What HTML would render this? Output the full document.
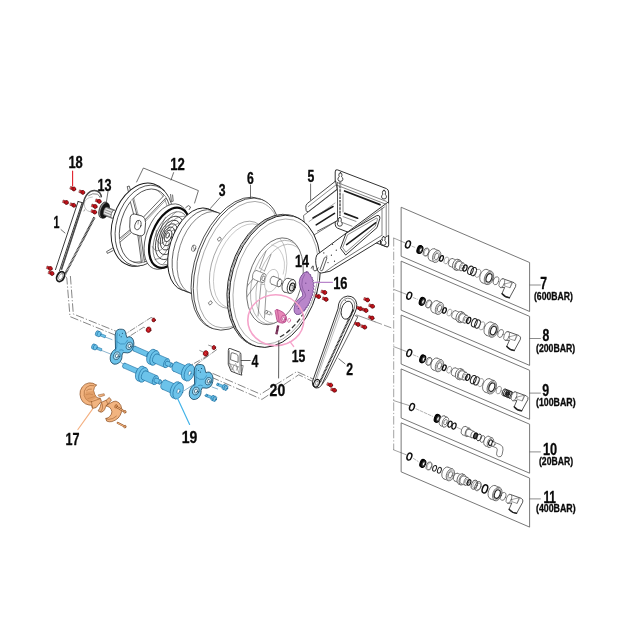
<!DOCTYPE html>
<html><head><meta charset="utf-8"><title>Exploded view</title>
<style>
html,body{margin:0;padding:0;background:#fff;}
body{width:620px;height:620px;overflow:hidden;font-family:"Liberation Sans",sans-serif;}
svg{display:block;}
svg text{font-family:"Liberation Sans",sans-serif;font-weight:bold;fill:#0a0a0a;stroke:#0a0a0a;stroke-width:0.3px;stroke-linejoin:round;}
</style></head><body>
<svg width="620" height="620" viewBox="0 0 620 620" stroke-linecap="round" stroke-linejoin="round">
<rect x="0" y="0" width="620" height="620" fill="#fff"/>
<path d="M65.6,276.4 L66.8,278.1 L70,316.6 L116.5,335.6" stroke="#444" stroke-width="0.65" fill="none" stroke-dasharray="8.5 2 1.2 2" stroke-linecap="butt"/>
<path d="M70.4,276 L73.3,314 L118,332" stroke="#444" stroke-width="0.65" fill="none" stroke-dasharray="8.5 2 1.2 2" stroke-linecap="butt"/>
<path d="M211,377 L261.9,399.4 L298.7,374.8 L312.6,381.4" stroke="#444" stroke-width="0.65" fill="none" stroke-dasharray="8.5 2 1.2 2" stroke-linecap="butt"/>
<path d="M212.6,373.4 L260.6,394.2 L296.8,371.6 L313,379" stroke="#444" stroke-width="0.65" fill="none" stroke-dasharray="8.5 2 1.2 2" stroke-linecap="butt"/>
<path d="M393.7,238 L393.7,450" stroke="#666" stroke-width="0.6" fill="none" stroke-dasharray="8.5 2 1.2 2" stroke-linecap="butt"/>
<path d="M356.6,315 L375,321.8" stroke="#444" stroke-width="0.6" fill="none" />
<path d="M375,321.8 L393.7,328.7" stroke="#555" stroke-width="0.6" fill="none" stroke-dasharray="7 3"/>
<polygon points="401.5,207.4 529.6,262.5 529.6,311.5 401.5,256.4" stroke="#606060" stroke-width="0.85" fill="none" />
<polygon points="401.5,261.29999999999995 529.6,316.4 529.6,365.4 401.5,310.29999999999995" stroke="#606060" stroke-width="0.85" fill="none" />
<polygon points="401.5,315.2 529.6,370.3 529.6,419.3 401.5,364.2" stroke="#606060" stroke-width="0.85" fill="none" />
<polygon points="401.5,369.09999999999997 529.6,424.2 529.6,473.2 401.5,418.09999999999997" stroke="#606060" stroke-width="0.85" fill="none" />
<polygon points="401.5,423.0 529.6,478.1 529.6,527.1 401.5,472.0" stroke="#606060" stroke-width="0.85" fill="none" />
<line x1="393.7" y1="238.0" x2="405.1" y2="242.9" stroke="#444" stroke-width="0.5" />
<line x1="393.7" y1="289.4" x2="406.35" y2="294.3" stroke="#444" stroke-width="0.5" />
<line x1="393.7" y1="346.6" x2="406.35" y2="351.5" stroke="#444" stroke-width="0.5" />
<line x1="393.7" y1="400.6" x2="409.1" y2="405.5" stroke="#444" stroke-width="0.5" />
<line x1="393.7" y1="449.9" x2="406.35" y2="454.8" stroke="#444" stroke-width="0.5" />
<ellipse cx="408" cy="244.4" rx="2.25" ry="3.6" transform="rotate(20 408 244.4)" stroke="#111" stroke-width="1.45" fill="none" />
<path d="M412,246.20000000000002 L415.2,247.5" stroke="#666" stroke-width="0.5" fill="none" stroke-dasharray="3 1.5"/>
<ellipse cx="419.5" cy="249.4" rx="2.3" ry="4.0" transform="rotate(20 419.5 249.4)" stroke="#000" stroke-width="1.1" fill="#111" />
<ellipse cx="420.5" cy="249.8" rx="2.2" ry="3.8" transform="rotate(20 420.5 249.8)" stroke="#000" stroke-width="1.0" fill="#333" />
<ellipse cx="420.8" cy="249.95" rx="1.1" ry="2.0" transform="rotate(20 420.8 249.95)" stroke="#000" stroke-width="0.4" fill="#fff" />
<ellipse cx="426.0" cy="252.08" rx="2.6" ry="4.2" transform="rotate(20 426.0 252.08)" stroke="#555" stroke-width="0.8" fill="none" />
<ellipse cx="426.8" cy="252.43" rx="2.4" ry="3.9" transform="rotate(20 426.8 252.43)" stroke="#777" stroke-width="0.5" fill="none" />
<ellipse cx="432.3" cy="254.67" rx="3.9" ry="6.2" transform="rotate(20 432.3 254.67)" stroke="#333" stroke-width="0.6" fill="#fff" />
<polygon points="434.4205248886192,248.83990575112736 438.82052488861916,250.6439057511274 434.5794751113808,262.29609424887263 430.17947511138084,260.4920942488726" stroke="none" stroke-width="0.8" fill="#fff" />
<line x1="434.4205248886192" y1="248.83990575112736" x2="438.82052488861916" y2="250.6439057511274" stroke="#333" stroke-width="0.6" />
<line x1="430.17947511138084" y1="260.4920942488726" x2="434.5794751113808" y2="262.29609424887263" stroke="#333" stroke-width="0.6" />
<ellipse cx="436.7" cy="256.47" rx="3.9" ry="6.2" transform="rotate(20 436.7 256.47)" stroke="#333" stroke-width="0.6" fill="#fff" />
<ellipse cx="436.7" cy="256.47" rx="2.0" ry="3.3" transform="rotate(20 436.7 256.47)" stroke="#555" stroke-width="0.7" fill="#fff" />
<ellipse cx="436.7" cy="256.47" rx="2.9" ry="4.7" transform="rotate(20 436.7 256.47)" stroke="#777" stroke-width="0.5" fill="none" />
<ellipse cx="441.5" cy="258.44" rx="1.7" ry="2.9" transform="rotate(20 441.5 258.44)" stroke="#111" stroke-width="1.3" fill="none" />
<ellipse cx="446.4" cy="260.45" rx="2.2" ry="3.6" transform="rotate(20 446.4 260.45)" stroke="#777" stroke-width="0.6" fill="none" />
<ellipse cx="451.2" cy="262.42" rx="2.5" ry="4.1" transform="rotate(20 451.2 262.42)" stroke="#333" stroke-width="0.6" fill="#fff" />
<polygon points="452.6022825876352,258.5622602547778 457.1022825876352,260.4072602547778 454.29771741236476,268.1127397452222 449.79771741236476,266.26773974522223" stroke="none" stroke-width="0.8" fill="#fff" />
<line x1="452.6022825876352" y1="258.5622602547778" x2="457.1022825876352" y2="260.4072602547778" stroke="#333" stroke-width="0.6" />
<line x1="449.79771741236476" y1="266.26773974522223" x2="454.29771741236476" y2="268.1127397452222" stroke="#333" stroke-width="0.6" />
<ellipse cx="455.7" cy="264.26" rx="2.5" ry="4.1" transform="rotate(20 455.7 264.26)" stroke="#333" stroke-width="0.6" fill="#fff" />
<ellipse cx="456.2" cy="264.46" rx="3.3" ry="5.4" transform="rotate(20 456.2 264.46)" stroke="#333" stroke-width="0.6" fill="#fff" />
<polygon points="458.0469087739586,259.39065984775607 460.0469087739586,260.2106598477561 456.3530912260414,270.35934015224393 454.3530912260414,269.5393401522439" stroke="none" stroke-width="0.8" fill="#fff" />
<line x1="458.0469087739586" y1="259.39065984775607" x2="460.0469087739586" y2="260.2106598477561" stroke="#333" stroke-width="0.6" />
<line x1="454.3530912260414" y1="269.5393401522439" x2="456.3530912260414" y2="270.35934015224393" stroke="#333" stroke-width="0.6" />
<ellipse cx="458.2" cy="265.29" rx="3.3" ry="5.4" transform="rotate(20 458.2 265.29)" stroke="#333" stroke-width="0.6" fill="#fff" />
<ellipse cx="458.2" cy="265.29" rx="2.5" ry="4.1" transform="rotate(20 458.2 265.29)" stroke="#333" stroke-width="0.6" fill="#fff" />
<polygon points="459.6022825876352,261.4322602547778 463.6022825876352,263.0722602547778 460.79771741236476,270.7777397452222 456.79771741236476,269.13773974522223" stroke="none" stroke-width="0.8" fill="#fff" />
<line x1="459.6022825876352" y1="261.4322602547778" x2="463.6022825876352" y2="263.0722602547778" stroke="#333" stroke-width="0.6" />
<line x1="456.79771741236476" y1="269.13773974522223" x2="460.79771741236476" y2="270.7777397452222" stroke="#333" stroke-width="0.6" />
<ellipse cx="462.2" cy="266.93" rx="2.5" ry="4.1" transform="rotate(20 462.2 266.93)" stroke="#333" stroke-width="0.6" fill="#fff" />
<ellipse cx="462.2" cy="266.93" rx="1.3" ry="2.1" transform="rotate(20 462.2 266.93)" stroke="#555" stroke-width="0.5" fill="#fff" />
<ellipse cx="465.0" cy="268.07" rx="1.9" ry="3.2" transform="rotate(20 465.0 268.07)" stroke="#111" stroke-width="1.2" fill="none" />
<ellipse cx="470.5" cy="270.33" rx="2.6" ry="4.3" transform="rotate(20 470.5 270.33)" stroke="#222" stroke-width="1.0" fill="none" />
<ellipse cx="473.6" cy="271.6" rx="2.6" ry="4.3" transform="rotate(20 473.6 271.6)" stroke="#222" stroke-width="1.0" fill="none" />
<ellipse cx="477.8" cy="273.32" rx="2.6" ry="4.3" transform="rotate(20 477.8 273.32)" stroke="#777" stroke-width="0.6" fill="none" />
<ellipse cx="484.5" cy="276.07" rx="4.4" ry="7.0" transform="rotate(20 484.5 276.07)" stroke="#333" stroke-width="0.6" fill="#fff" />
<polygon points="486.8941410032797,269.4901516544986 491.3941410032797,271.33515165449865 486.6058589967203,284.4908483455014 482.1058589967203,282.64584834550135" stroke="none" stroke-width="0.8" fill="#fff" />
<line x1="486.8941410032797" y1="269.4901516544986" x2="491.3941410032797" y2="271.33515165449865" stroke="#333" stroke-width="0.6" />
<line x1="482.1058589967203" y1="282.64584834550135" x2="486.6058589967203" y2="284.4908483455014" stroke="#333" stroke-width="0.6" />
<ellipse cx="489.0" cy="277.91" rx="4.4" ry="7.0" transform="rotate(20 489.0 277.91)" stroke="#333" stroke-width="0.6" fill="#fff" />
<ellipse cx="489.0" cy="277.91" rx="2.7" ry="4.4" transform="rotate(20 489.0 277.91)" stroke="#222" stroke-width="1.1" fill="#fff" />
<ellipse cx="489.0" cy="277.91" rx="3.6" ry="5.8" transform="rotate(20 489.0 277.91)" stroke="#555" stroke-width="0.5" fill="none" />
<ellipse cx="496.0" cy="280.78" rx="2.6" ry="4.2" transform="rotate(20 496.0 280.78)" stroke="#555" stroke-width="0.7" fill="none" />
<path d="M502.69999999999993,278.661 L514.0999999999999,282.661 Q516.5999999999999,284.061 515.5999999999999,286.561 L509.49999999999994,297.761 Q505.19999999999993,297.561 501.9,293.761 L504.69999999999993,287.361 L500.9,287.661 Z" stroke="#222" stroke-width="0.75" fill="#fff" />
<ellipse cx="501.8" cy="283.16" rx="2.5" ry="4.6" transform="rotate(20 501.8 283.16)" stroke="#444" stroke-width="0.6" fill="#fff" />
<path d="M505.19999999999993,283.761 L511.99999999999994,282.161 L509.99999999999994,287.761 L504.99999999999994,286.161 Z M509.99999999999994,287.761 L512.4,283.161" stroke="#444" stroke-width="0.5" fill="none" />
<path d="M502.09999999999997,293.761 Q505.19999999999993,297.361 509.4,297.661" stroke="#222" stroke-width="1.5" fill="none" />
<ellipse cx="409.25" cy="295.8" rx="2.25" ry="3.6" transform="rotate(20 409.25 295.8)" stroke="#111" stroke-width="1.45" fill="none" />
<path d="M413.25,297.6 L417.5,299.3" stroke="#666" stroke-width="0.5" fill="none" stroke-dasharray="3 1.5"/>
<ellipse cx="421.8" cy="301.2" rx="2.3" ry="4.0" transform="rotate(20 421.8 301.2)" stroke="#000" stroke-width="1.1" fill="#111" />
<ellipse cx="422.8" cy="301.6" rx="2.2" ry="3.8" transform="rotate(20 422.8 301.6)" stroke="#000" stroke-width="1.0" fill="#333" />
<ellipse cx="423.1" cy="301.75" rx="1.1" ry="2.0" transform="rotate(20 423.1 301.75)" stroke="#000" stroke-width="0.4" fill="#fff" />
<ellipse cx="428.49" cy="303.96" rx="2.6" ry="4.2" transform="rotate(20 428.49 303.96)" stroke="#555" stroke-width="0.8" fill="none" />
<ellipse cx="429.29" cy="304.31" rx="2.4" ry="3.9" transform="rotate(20 429.29 304.31)" stroke="#777" stroke-width="0.5" fill="none" />
<ellipse cx="434.98" cy="306.62" rx="3.9" ry="6.2" transform="rotate(20 434.98 306.62)" stroke="#333" stroke-width="0.6" fill="#fff" />
<polygon points="437.0985248886192,300.7948857511274 441.63052488861916,302.6530057511274 437.3894751113808,314.3051942488726 432.85747511138084,312.44707424887264" stroke="none" stroke-width="0.8" fill="#fff" />
<line x1="437.0985248886192" y1="300.7948857511274" x2="441.63052488861916" y2="302.6530057511274" stroke="#333" stroke-width="0.6" />
<line x1="432.85747511138084" y1="312.44707424887264" x2="437.3894751113808" y2="314.3051942488726" stroke="#333" stroke-width="0.6" />
<ellipse cx="439.51" cy="308.48" rx="3.9" ry="6.2" transform="rotate(20 439.51 308.48)" stroke="#333" stroke-width="0.6" fill="#fff" />
<ellipse cx="439.51" cy="308.48" rx="2.0" ry="3.3" transform="rotate(20 439.51 308.48)" stroke="#555" stroke-width="0.7" fill="#fff" />
<ellipse cx="439.51" cy="308.48" rx="2.9" ry="4.7" transform="rotate(20 439.51 308.48)" stroke="#777" stroke-width="0.5" fill="none" />
<ellipse cx="444.45" cy="310.51" rx="1.7" ry="2.9" transform="rotate(20 444.45 310.51)" stroke="#111" stroke-width="1.3" fill="none" />
<ellipse cx="449.5" cy="312.58" rx="2.2" ry="3.6" transform="rotate(20 449.5 312.58)" stroke="#777" stroke-width="0.6" fill="none" />
<ellipse cx="454.44" cy="314.6" rx="2.5" ry="4.1" transform="rotate(20 454.44 314.6)" stroke="#333" stroke-width="0.6" fill="#fff" />
<polygon points="455.8472825876352,310.7497102547778 460.4822825876352,312.6500602547778 457.67771741236476,320.35553974522225 453.04271741236477,318.45518974522224" stroke="none" stroke-width="0.8" fill="#fff" />
<line x1="455.8472825876352" y1="310.7497102547778" x2="460.4822825876352" y2="312.6500602547778" stroke="#333" stroke-width="0.6" />
<line x1="453.04271741236477" y1="318.45518974522224" x2="457.67771741236476" y2="320.35553974522225" stroke="#333" stroke-width="0.6" />
<ellipse cx="459.08" cy="316.5" rx="2.5" ry="4.1" transform="rotate(20 459.08 316.5)" stroke="#333" stroke-width="0.6" fill="#fff" />
<ellipse cx="459.6" cy="316.71" rx="3.3" ry="5.4" transform="rotate(20 459.6 316.71)" stroke="#333" stroke-width="0.6" fill="#fff" />
<polygon points="461.44190877395863,311.6396098477561 463.5019087739586,312.4842098477561 459.80809122604137,322.63289015224393 457.7480912260414,321.7882901522439" stroke="none" stroke-width="0.8" fill="#fff" />
<line x1="461.44190877395863" y1="311.6396098477561" x2="463.5019087739586" y2="312.4842098477561" stroke="#333" stroke-width="0.6" />
<line x1="457.7480912260414" y1="321.7882901522439" x2="459.80809122604137" y2="322.63289015224393" stroke="#333" stroke-width="0.6" />
<ellipse cx="461.65" cy="317.56" rx="3.3" ry="5.4" transform="rotate(20 461.65 317.56)" stroke="#333" stroke-width="0.6" fill="#fff" />
<ellipse cx="461.65" cy="317.56" rx="2.5" ry="4.1" transform="rotate(20 461.65 317.56)" stroke="#333" stroke-width="0.6" fill="#fff" />
<polygon points="463.0572825876352,313.7058102547778 467.1772825876352,315.3950102547778 464.37271741236475,323.1004897452222 460.25271741236475,321.41128974522223" stroke="none" stroke-width="0.8" fill="#fff" />
<line x1="463.0572825876352" y1="313.7058102547778" x2="467.1772825876352" y2="315.3950102547778" stroke="#333" stroke-width="0.6" />
<line x1="460.25271741236475" y1="321.41128974522223" x2="464.37271741236475" y2="323.1004897452222" stroke="#333" stroke-width="0.6" />
<ellipse cx="465.77" cy="319.25" rx="2.5" ry="4.1" transform="rotate(20 465.77 319.25)" stroke="#333" stroke-width="0.6" fill="#fff" />
<ellipse cx="465.77" cy="319.25" rx="1.3" ry="2.1" transform="rotate(20 465.77 319.25)" stroke="#555" stroke-width="0.5" fill="#fff" />
<ellipse cx="468.66" cy="320.43" rx="1.9" ry="3.2" transform="rotate(20 468.66 320.43)" stroke="#111" stroke-width="1.2" fill="none" />
<ellipse cx="474.32" cy="322.75" rx="2.6" ry="4.3" transform="rotate(20 474.32 322.75)" stroke="#222" stroke-width="1.0" fill="none" />
<ellipse cx="477.52" cy="324.06" rx="2.6" ry="4.3" transform="rotate(20 477.52 324.06)" stroke="#222" stroke-width="1.0" fill="none" />
<ellipse cx="481.84" cy="325.84" rx="2.6" ry="4.3" transform="rotate(20 481.84 325.84)" stroke="#777" stroke-width="0.6" fill="none" />
<ellipse cx="488.74" cy="328.67" rx="4.4" ry="7.0" transform="rotate(20 488.74 328.67)" stroke="#333" stroke-width="0.6" fill="#fff" />
<polygon points="491.1381410032797,322.08719165449867 495.7731410032797,323.9875416544986 490.98485899672033,337.14323834550135 486.34985899672034,335.2428883455014" stroke="none" stroke-width="0.8" fill="#fff" />
<line x1="491.1381410032797" y1="322.08719165449867" x2="495.7731410032797" y2="323.9875416544986" stroke="#333" stroke-width="0.6" />
<line x1="486.34985899672034" y1="335.2428883455014" x2="490.98485899672033" y2="337.14323834550135" stroke="#333" stroke-width="0.6" />
<ellipse cx="493.38" cy="330.57" rx="4.4" ry="7.0" transform="rotate(20 493.38 330.57)" stroke="#333" stroke-width="0.6" fill="#fff" />
<ellipse cx="493.38" cy="330.57" rx="2.7" ry="4.4" transform="rotate(20 493.38 330.57)" stroke="#222" stroke-width="1.1" fill="#fff" />
<ellipse cx="493.38" cy="330.57" rx="3.6" ry="5.8" transform="rotate(20 493.38 330.57)" stroke="#555" stroke-width="0.5" fill="none" />
<ellipse cx="500.59" cy="333.52" rx="2.6" ry="4.2" transform="rotate(20 500.59 333.52)" stroke="#555" stroke-width="0.7" fill="none" />
<path d="M507.46299999999997,331.47083 L518.8629999999999,335.47083 Q521.3629999999999,336.87082999999996 520.3629999999999,339.37082999999996 L514.263,350.57083 Q509.96299999999997,350.37082999999996 506.663,346.57083 L509.46299999999997,340.17082999999997 L505.663,340.47083 Z" stroke="#222" stroke-width="0.75" fill="#fff" />
<ellipse cx="506.56" cy="335.97" rx="2.5" ry="4.6" transform="rotate(20 506.56 335.97)" stroke="#444" stroke-width="0.6" fill="#fff" />
<path d="M509.96299999999997,336.57083 L516.763,334.97083 L514.763,340.57083 L509.763,338.97083 Z M514.763,340.57083 L517.163,335.97083" stroke="#444" stroke-width="0.5" fill="none" />
<path d="M506.863,346.57083 Q509.96299999999997,350.17082999999997 514.163,350.47083" stroke="#222" stroke-width="1.5" fill="none" />
<ellipse cx="409.25" cy="353" rx="2.25" ry="3.6" transform="rotate(20 409.25 353)" stroke="#111" stroke-width="1.45" fill="none" />
<path d="M413.25,354.8 L418.0,356.8" stroke="#666" stroke-width="0.5" fill="none" stroke-dasharray="3 1.5"/>
<ellipse cx="422.3" cy="358.7" rx="2.3" ry="4.0" transform="rotate(20 422.3 358.7)" stroke="#000" stroke-width="1.1" fill="#111" />
<ellipse cx="423.3" cy="359.1" rx="2.2" ry="3.8" transform="rotate(20 423.3 359.1)" stroke="#000" stroke-width="1.0" fill="#333" />
<ellipse cx="423.6" cy="359.25" rx="1.1" ry="2.0" transform="rotate(20 423.6 359.25)" stroke="#000" stroke-width="0.4" fill="#fff" />
<ellipse cx="428.8" cy="361.38" rx="2.6" ry="4.2" transform="rotate(20 428.8 361.38)" stroke="#555" stroke-width="0.8" fill="none" />
<ellipse cx="429.6" cy="361.73" rx="2.4" ry="3.9" transform="rotate(20 429.6 361.73)" stroke="#777" stroke-width="0.5" fill="none" />
<ellipse cx="435.1" cy="363.97" rx="3.9" ry="6.2" transform="rotate(20 435.1 363.97)" stroke="#333" stroke-width="0.6" fill="#fff" />
<polygon points="437.2205248886192,358.1399057511274 441.6205248886192,359.94390575112743 437.3794751113808,371.59609424887265 432.97947511138085,369.7920942488726" stroke="none" stroke-width="0.8" fill="#fff" />
<line x1="437.2205248886192" y1="358.1399057511274" x2="441.6205248886192" y2="359.94390575112743" stroke="#333" stroke-width="0.6" />
<line x1="432.97947511138085" y1="369.7920942488726" x2="437.3794751113808" y2="371.59609424887265" stroke="#333" stroke-width="0.6" />
<ellipse cx="439.5" cy="365.77" rx="3.9" ry="6.2" transform="rotate(20 439.5 365.77)" stroke="#333" stroke-width="0.6" fill="#fff" />
<ellipse cx="439.5" cy="365.77" rx="2.0" ry="3.3" transform="rotate(20 439.5 365.77)" stroke="#555" stroke-width="0.7" fill="#fff" />
<ellipse cx="439.5" cy="365.77" rx="2.9" ry="4.7" transform="rotate(20 439.5 365.77)" stroke="#777" stroke-width="0.5" fill="none" />
<ellipse cx="444.3" cy="367.74" rx="1.7" ry="2.9" transform="rotate(20 444.3 367.74)" stroke="#111" stroke-width="1.3" fill="none" />
<ellipse cx="449.2" cy="369.75" rx="2.2" ry="3.6" transform="rotate(20 449.2 369.75)" stroke="#777" stroke-width="0.6" fill="none" />
<ellipse cx="454.0" cy="371.72" rx="2.5" ry="4.1" transform="rotate(20 454.0 371.72)" stroke="#333" stroke-width="0.6" fill="#fff" />
<polygon points="455.4022825876352,367.8622602547778 459.9022825876352,369.7072602547778 457.0977174123648,377.4127397452222 452.5977174123648,375.56773974522224" stroke="none" stroke-width="0.8" fill="#fff" />
<line x1="455.4022825876352" y1="367.8622602547778" x2="459.9022825876352" y2="369.7072602547778" stroke="#333" stroke-width="0.6" />
<line x1="452.5977174123648" y1="375.56773974522224" x2="457.0977174123648" y2="377.4127397452222" stroke="#333" stroke-width="0.6" />
<ellipse cx="458.5" cy="373.56" rx="2.5" ry="4.1" transform="rotate(20 458.5 373.56)" stroke="#333" stroke-width="0.6" fill="#fff" />
<ellipse cx="459.0" cy="373.76" rx="3.3" ry="5.4" transform="rotate(20 459.0 373.76)" stroke="#333" stroke-width="0.6" fill="#fff" />
<polygon points="460.8469087739586,368.6906598477561 462.8469087739586,369.51065984775613 459.1530912260414,379.65934015224394 457.1530912260414,378.8393401522439" stroke="none" stroke-width="0.8" fill="#fff" />
<line x1="460.8469087739586" y1="368.6906598477561" x2="462.8469087739586" y2="369.51065984775613" stroke="#333" stroke-width="0.6" />
<line x1="457.1530912260414" y1="378.8393401522439" x2="459.1530912260414" y2="379.65934015224394" stroke="#333" stroke-width="0.6" />
<ellipse cx="461.0" cy="374.59" rx="3.3" ry="5.4" transform="rotate(20 461.0 374.59)" stroke="#333" stroke-width="0.6" fill="#fff" />
<ellipse cx="461.0" cy="374.59" rx="2.5" ry="4.1" transform="rotate(20 461.0 374.59)" stroke="#333" stroke-width="0.6" fill="#fff" />
<polygon points="462.4022825876352,370.7322602547778 466.4022825876352,372.3722602547778 463.5977174123648,380.07773974522223 459.5977174123648,378.43773974522225" stroke="none" stroke-width="0.8" fill="#fff" />
<line x1="462.4022825876352" y1="370.7322602547778" x2="466.4022825876352" y2="372.3722602547778" stroke="#333" stroke-width="0.6" />
<line x1="459.5977174123648" y1="378.43773974522225" x2="463.5977174123648" y2="380.07773974522223" stroke="#333" stroke-width="0.6" />
<ellipse cx="465.0" cy="376.23" rx="2.5" ry="4.1" transform="rotate(20 465.0 376.23)" stroke="#333" stroke-width="0.6" fill="#fff" />
<ellipse cx="465.0" cy="376.23" rx="1.3" ry="2.1" transform="rotate(20 465.0 376.23)" stroke="#555" stroke-width="0.5" fill="#fff" />
<ellipse cx="467.8" cy="377.37" rx="1.9" ry="3.2" transform="rotate(20 467.8 377.37)" stroke="#111" stroke-width="1.2" fill="none" />
<ellipse cx="473.3" cy="379.63" rx="2.6" ry="4.3" transform="rotate(20 473.3 379.63)" stroke="#222" stroke-width="1.0" fill="none" />
<ellipse cx="476.4" cy="380.9" rx="2.6" ry="4.3" transform="rotate(20 476.4 380.9)" stroke="#222" stroke-width="1.0" fill="none" />
<ellipse cx="480.6" cy="382.62" rx="2.6" ry="4.3" transform="rotate(20 480.6 382.62)" stroke="#777" stroke-width="0.6" fill="none" />
<ellipse cx="487.3" cy="385.37" rx="4.4" ry="7.0" transform="rotate(20 487.3 385.37)" stroke="#333" stroke-width="0.6" fill="#fff" />
<polygon points="489.6941410032797,378.79015165449863 494.1941410032797,380.63515165449866 489.4058589967203,393.7908483455014 484.9058589967203,391.94584834550136" stroke="none" stroke-width="0.8" fill="#fff" />
<line x1="489.6941410032797" y1="378.79015165449863" x2="494.1941410032797" y2="380.63515165449866" stroke="#333" stroke-width="0.6" />
<line x1="484.9058589967203" y1="391.94584834550136" x2="489.4058589967203" y2="393.7908483455014" stroke="#333" stroke-width="0.6" />
<ellipse cx="491.8" cy="387.21" rx="4.4" ry="7.0" transform="rotate(20 491.8 387.21)" stroke="#333" stroke-width="0.6" fill="#fff" />
<ellipse cx="491.8" cy="387.21" rx="2.7" ry="4.4" transform="rotate(20 491.8 387.21)" stroke="#222" stroke-width="1.1" fill="#fff" />
<ellipse cx="491.8" cy="387.21" rx="3.6" ry="5.8" transform="rotate(20 491.8 387.21)" stroke="#555" stroke-width="0.5" fill="none" />
<ellipse cx="498.8" cy="390.08" rx="2.4" ry="4.0" transform="rotate(20 498.8 390.08)" stroke="#666" stroke-width="0.6" fill="none" />
<ellipse cx="504.5" cy="392.42" rx="2.2" ry="3.7" transform="rotate(20 504.5 392.42)" stroke="#222" stroke-width="0.9" fill="none" />
<ellipse cx="506.0" cy="393.04" rx="2.2" ry="3.7" transform="rotate(20 506.0 393.04)" stroke="#222" stroke-width="0.9" fill="none" />
<ellipse cx="507.5" cy="393.65" rx="2.2" ry="3.7" transform="rotate(20 507.5 393.65)" stroke="#222" stroke-width="0.9" fill="none" />
<ellipse cx="509.0" cy="394.26" rx="2.2" ry="3.7" transform="rotate(20 509.0 394.26)" stroke="#222" stroke-width="0.9" fill="none" />
<ellipse cx="510.5" cy="394.88" rx="2.2" ry="3.7" transform="rotate(20 510.5 394.88)" stroke="#222" stroke-width="0.9" fill="none" />
<ellipse cx="507.5" cy="393.65" rx="1.0" ry="1.7" transform="rotate(20 507.5 393.65)" stroke="#111" stroke-width="0.8" fill="#444" />
<path d="M514.9,391.815 L526.3,395.815 Q528.8,397.215 527.8,399.715 L521.7,410.915 Q517.4,410.715 514.1,406.915 L516.9,400.515 L513.1,400.815 Z" stroke="#222" stroke-width="0.75" fill="#fff" />
<ellipse cx="514.0" cy="396.31" rx="2.5" ry="4.6" transform="rotate(20 514.0 396.31)" stroke="#444" stroke-width="0.6" fill="#fff" />
<path d="M517.4,396.915 L524.2,395.315 L522.2,400.915 L517.2,399.315 Z M522.2,400.915 L524.6,396.315" stroke="#444" stroke-width="0.5" fill="none" />
<path d="M514.3,406.915 Q517.4,410.515 521.6,410.815" stroke="#222" stroke-width="1.5" fill="none" />
<ellipse cx="412" cy="407" rx="2.25" ry="3.6" transform="rotate(20 412 407)" stroke="#111" stroke-width="1.45" fill="none" />
<path d="M416,408.8 L432.5,416.3" stroke="#666" stroke-width="0.5" fill="none" stroke-dasharray="3 1.5"/>
<ellipse cx="436.8" cy="418.2" rx="2.3" ry="4.0" transform="rotate(20 436.8 418.2)" stroke="#000" stroke-width="1.1" fill="#111" />
<ellipse cx="437.8" cy="418.6" rx="2.2" ry="3.8" transform="rotate(20 437.8 418.6)" stroke="#000" stroke-width="1.0" fill="#333" />
<ellipse cx="438.1" cy="418.75" rx="1.1" ry="2.0" transform="rotate(20 438.1 418.75)" stroke="#000" stroke-width="0.4" fill="#fff" />
<ellipse cx="442.5" cy="420.8" rx="3.0" ry="5.2" transform="rotate(20 442.5 420.8)" stroke="#333" stroke-width="0.6" fill="#fff" />
<polygon points="444.2785047452935,415.9160983719133 447.2785047452935,417.2810983719133 443.7214952547065,427.05390162808675 440.7214952547065,425.68890162808674" stroke="none" stroke-width="0.8" fill="#fff" />
<line x1="444.2785047452935" y1="415.9160983719133" x2="447.2785047452935" y2="417.2810983719133" stroke="#333" stroke-width="0.6" />
<line x1="440.7214952547065" y1="425.68890162808674" x2="443.7214952547065" y2="427.05390162808675" stroke="#333" stroke-width="0.6" />
<ellipse cx="445.5" cy="422.17" rx="3.0" ry="5.2" transform="rotate(20 445.5 422.17)" stroke="#333" stroke-width="0.6" fill="#fff" />
<ellipse cx="445.5" cy="422.17" rx="1.6" ry="2.8" transform="rotate(20 445.5 422.17)" stroke="#444" stroke-width="0.6" fill="#fff" />
<ellipse cx="450.0" cy="424.22" rx="1.9" ry="3.1" transform="rotate(20 450.0 424.22)" stroke="#111" stroke-width="1.2" fill="none" />
<ellipse cx="454.0" cy="426.04" rx="1.9" ry="3.1" transform="rotate(20 454.0 426.04)" stroke="#111" stroke-width="1.2" fill="none" />
<path d="M456.5,427.1725 L463.0,430.13" stroke="#666" stroke-width="0.5" fill="none" />
<ellipse cx="464.0" cy="430.59" rx="2.6" ry="4.4" transform="rotate(20 464.0 430.59)" stroke="#333" stroke-width="0.6" fill="#fff" />
<polygon points="465.50488863063293,426.45035246854206 469.50488863063293,428.27035246854206 466.49511136936707,436.539647531458 462.49511136936707,434.719647531458" stroke="none" stroke-width="0.8" fill="#fff" />
<line x1="465.50488863063293" y1="426.45035246854206" x2="469.50488863063293" y2="428.27035246854206" stroke="#333" stroke-width="0.6" />
<line x1="462.49511136936707" y1="434.719647531458" x2="466.49511136936707" y2="436.539647531458" stroke="#333" stroke-width="0.6" />
<ellipse cx="468.0" cy="432.41" rx="2.6" ry="4.4" transform="rotate(20 468.0 432.41)" stroke="#333" stroke-width="0.6" fill="#fff" />
<ellipse cx="468.0" cy="432.41" rx="2.0" ry="3.4" transform="rotate(20 468.0 432.41)" stroke="#333" stroke-width="0.6" fill="#fff" />
<polygon points="469.16286848730726,429.21004508932793 474.16286848730726,431.4850450893279 471.83713151269274,437.8749549106721 466.83713151269274,435.5999549106721" stroke="none" stroke-width="0.8" fill="#fff" />
<line x1="469.16286848730726" y1="429.21004508932793" x2="474.16286848730726" y2="431.4850450893279" stroke="#333" stroke-width="0.6" />
<line x1="466.83713151269274" y1="435.5999549106721" x2="471.83713151269274" y2="437.8749549106721" stroke="#333" stroke-width="0.6" />
<ellipse cx="473.0" cy="434.68" rx="2.0" ry="3.4" transform="rotate(20 473.0 434.68)" stroke="#333" stroke-width="0.6" fill="#fff" />
<ellipse cx="475.5" cy="435.82" rx="1.7" ry="2.9" transform="rotate(20 475.5 435.82)" stroke="#111" stroke-width="1.3" fill="#555" />
<ellipse cx="479.0" cy="437.41" rx="2.1" ry="3.6" transform="rotate(20 479.0 437.41)" stroke="#222" stroke-width="0.9" fill="none" />
<ellipse cx="482.5" cy="439.0" rx="2.1" ry="3.6" transform="rotate(20 482.5 439.0)" stroke="#555" stroke-width="0.7" fill="none" />
<ellipse cx="487.0" cy="441.05" rx="3.0" ry="5.0" transform="rotate(20 487.0 441.05)" stroke="#333" stroke-width="0.6" fill="#fff" />
<polygon points="488.71010071662835,436.35153689607046 492.21010071662835,437.9440368960705 488.78989928337165,447.3409631039296 485.28989928337165,445.74846310392957" stroke="none" stroke-width="0.8" fill="#fff" />
<line x1="488.71010071662835" y1="436.35153689607046" x2="492.21010071662835" y2="437.9440368960705" stroke="#333" stroke-width="0.6" />
<line x1="485.28989928337165" y1="445.74846310392957" x2="488.78989928337165" y2="447.3409631039296" stroke="#333" stroke-width="0.6" />
<ellipse cx="490.5" cy="442.64" rx="3.0" ry="5.0" transform="rotate(20 490.5 442.64)" stroke="#333" stroke-width="0.6" fill="#fff" />
<ellipse cx="490.5" cy="442.64" rx="1.7" ry="2.9" transform="rotate(20 490.5 442.64)" stroke="#111" stroke-width="1.1" fill="#fff" />
<path d="M493.7,442.01750000000004 l6.3,2.5 q3.8,1.8 3,5.3 l-0.9,4.8 q-0.7,2.8 -3.5,2.1 q-2.6,-0.9 -2,-3.5 l0.7,-3.5 q0.1,-1.4 -1.5,-2.1 l-4.1,-1.6 z" stroke="#333" stroke-width="0.65" fill="#fff" />
<ellipse cx="493.5" cy="444.02" rx="1.5" ry="2.4" transform="rotate(20 493.5 444.02)" stroke="#333" stroke-width="0.5" fill="#fff" />
<ellipse cx="409.4" cy="456.6" rx="2.25" ry="3.6" transform="rotate(20 409.4 456.6)" stroke="#111" stroke-width="1.45" fill="none" />
<path d="M413.4,458.40000000000003 L418.1,461.4" stroke="#666" stroke-width="0.5" fill="none" stroke-dasharray="3 1.5"/>
<ellipse cx="422.4" cy="463.3" rx="2.3" ry="4.0" transform="rotate(20 422.4 463.3)" stroke="#000" stroke-width="1.1" fill="#111" />
<ellipse cx="423.4" cy="463.7" rx="2.2" ry="3.8" transform="rotate(20 423.4 463.7)" stroke="#000" stroke-width="1.0" fill="#333" />
<ellipse cx="423.7" cy="463.85" rx="1.1" ry="2.0" transform="rotate(20 423.7 463.85)" stroke="#000" stroke-width="0.4" fill="#fff" />
<ellipse cx="428.9" cy="465.98" rx="2.6" ry="4.2" transform="rotate(20 428.9 465.98)" stroke="#555" stroke-width="0.8" fill="none" />
<ellipse cx="429.7" cy="466.33" rx="2.4" ry="3.9" transform="rotate(20 429.7 466.33)" stroke="#777" stroke-width="0.5" fill="none" />
<ellipse cx="434.6" cy="468.32" rx="1.8" ry="3.0" transform="rotate(20 434.6 468.32)" stroke="#222" stroke-width="1.0" fill="none" />
<ellipse cx="439.4" cy="470.29" rx="1.8" ry="3.0" transform="rotate(20 439.4 470.29)" stroke="#222" stroke-width="1.0" fill="none" />
<ellipse cx="446.0" cy="472.99" rx="3.9" ry="6.2" transform="rotate(20 446.0 472.99)" stroke="#333" stroke-width="0.6" fill="#fff" />
<polygon points="448.1205248886192,467.16790575112736 452.5205248886192,468.9719057511274 448.27947511138086,480.6240942488726 443.8794751113808,478.8200942488726" stroke="none" stroke-width="0.8" fill="#fff" />
<line x1="448.1205248886192" y1="467.16790575112736" x2="452.5205248886192" y2="468.9719057511274" stroke="#333" stroke-width="0.6" />
<line x1="443.8794751113808" y1="478.8200942488726" x2="448.27947511138086" y2="480.6240942488726" stroke="#333" stroke-width="0.6" />
<ellipse cx="450.4" cy="474.8" rx="3.9" ry="6.2" transform="rotate(20 450.4 474.8)" stroke="#333" stroke-width="0.6" fill="#fff" />
<ellipse cx="450.4" cy="474.8" rx="2.0" ry="3.3" transform="rotate(20 450.4 474.8)" stroke="#555" stroke-width="0.7" fill="#fff" />
<ellipse cx="450.4" cy="474.8" rx="2.9" ry="4.7" transform="rotate(20 450.4 474.8)" stroke="#777" stroke-width="0.5" fill="none" />
<ellipse cx="456.1" cy="477.13" rx="2.5" ry="4.1" transform="rotate(20 456.1 477.13)" stroke="#333" stroke-width="0.6" fill="#fff" />
<polygon points="457.50228258763525,473.2822602547778 461.50228258763525,474.92226025477777 458.6977174123648,482.6277397452222 454.6977174123648,480.9877397452222" stroke="none" stroke-width="0.8" fill="#fff" />
<line x1="457.50228258763525" y1="473.2822602547778" x2="461.50228258763525" y2="474.92226025477777" stroke="#333" stroke-width="0.6" />
<line x1="454.6977174123648" y1="480.9877397452222" x2="458.6977174123648" y2="482.6277397452222" stroke="#333" stroke-width="0.6" />
<ellipse cx="460.1" cy="478.77" rx="2.5" ry="4.1" transform="rotate(20 460.1 478.77)" stroke="#333" stroke-width="0.6" fill="#fff" />
<ellipse cx="460.6" cy="478.98" rx="3.3" ry="5.4" transform="rotate(20 460.6 478.98)" stroke="#333" stroke-width="0.6" fill="#fff" />
<polygon points="462.4469087739586,473.90565984775606 464.4469087739586,474.72565984775605 460.7530912260414,484.87434015224386 458.7530912260414,484.05434015224387" stroke="none" stroke-width="0.8" fill="#fff" />
<line x1="462.4469087739586" y1="473.90565984775606" x2="464.4469087739586" y2="474.72565984775605" stroke="#333" stroke-width="0.6" />
<line x1="458.7530912260414" y1="484.05434015224387" x2="460.7530912260414" y2="484.87434015224386" stroke="#333" stroke-width="0.6" />
<ellipse cx="462.6" cy="479.8" rx="3.3" ry="5.4" transform="rotate(20 462.6 479.8)" stroke="#333" stroke-width="0.6" fill="#fff" />
<ellipse cx="462.6" cy="479.8" rx="2.5" ry="4.1" transform="rotate(20 462.6 479.8)" stroke="#333" stroke-width="0.6" fill="#fff" />
<polygon points="464.00228258763525,475.94726025477775 468.00228258763525,477.5872602547778 465.1977174123648,485.2927397452222 461.1977174123648,483.65273974522216" stroke="none" stroke-width="0.8" fill="#fff" />
<line x1="464.00228258763525" y1="475.94726025477775" x2="468.00228258763525" y2="477.5872602547778" stroke="#333" stroke-width="0.6" />
<line x1="461.1977174123648" y1="483.65273974522216" x2="465.1977174123648" y2="485.2927397452222" stroke="#333" stroke-width="0.6" />
<ellipse cx="466.6" cy="481.44" rx="2.5" ry="4.1" transform="rotate(20 466.6 481.44)" stroke="#333" stroke-width="0.6" fill="#fff" />
<ellipse cx="466.6" cy="481.44" rx="1.3" ry="2.1" transform="rotate(20 466.6 481.44)" stroke="#555" stroke-width="0.5" fill="#fff" />
<ellipse cx="469.0" cy="482.42" rx="1.7" ry="2.9" transform="rotate(20 469.0 482.42)" stroke="#111" stroke-width="1.1" fill="none" />
<ellipse cx="474.4" cy="484.64" rx="2.9" ry="4.8" transform="rotate(20 474.4 484.64)" stroke="#444" stroke-width="0.8" fill="none" />
<ellipse cx="475.1" cy="484.94" rx="2.1" ry="3.5" transform="rotate(20 475.1 484.94)" stroke="#666" stroke-width="0.5" fill="none" />
<ellipse cx="478.0" cy="486.11" rx="2.9" ry="4.8" transform="rotate(20 478.0 486.11)" stroke="#444" stroke-width="0.8" fill="none" />
<ellipse cx="478.7" cy="486.41" rx="2.1" ry="3.5" transform="rotate(20 478.7 486.41)" stroke="#666" stroke-width="0.5" fill="none" />
<ellipse cx="484.9" cy="488.94" rx="2.5" ry="4.2" transform="rotate(20 484.9 488.94)" stroke="#111" stroke-width="1.5" fill="none" />
<ellipse cx="492.8" cy="492.18" rx="4.4" ry="7.0" transform="rotate(20 492.8 492.18)" stroke="#333" stroke-width="0.6" fill="#fff" />
<polygon points="495.1941410032797,485.6041516544986 499.6941410032797,487.4491516544986 494.9058589967203,500.60484834550135 490.4058589967203,498.7598483455013" stroke="none" stroke-width="0.8" fill="#fff" />
<line x1="495.1941410032797" y1="485.6041516544986" x2="499.6941410032797" y2="487.4491516544986" stroke="#333" stroke-width="0.6" />
<line x1="490.4058589967203" y1="498.7598483455013" x2="494.9058589967203" y2="500.60484834550135" stroke="#333" stroke-width="0.6" />
<ellipse cx="497.3" cy="494.03" rx="4.4" ry="7.0" transform="rotate(20 497.3 494.03)" stroke="#333" stroke-width="0.6" fill="#fff" />
<ellipse cx="497.3" cy="494.03" rx="2.7" ry="4.4" transform="rotate(20 497.3 494.03)" stroke="#222" stroke-width="1.1" fill="#fff" />
<ellipse cx="497.3" cy="494.03" rx="3.6" ry="5.8" transform="rotate(20 497.3 494.03)" stroke="#555" stroke-width="0.5" fill="none" />
<ellipse cx="503.1" cy="496.4" rx="2.6" ry="4.2" transform="rotate(20 503.1 496.4)" stroke="#555" stroke-width="0.7" fill="none" />
<path d="M509.8,494.28299999999996 L521.2,498.28299999999996 Q523.7,499.68299999999994 522.7,502.18299999999994 L516.6,513.3829999999999 Q512.3000000000001,513.183 509.00000000000006,509.383 L511.8,502.98299999999995 L508.00000000000006,503.28299999999996 Z" stroke="#222" stroke-width="0.75" fill="#fff" />
<ellipse cx="508.9" cy="498.78" rx="2.5" ry="4.6" transform="rotate(20 508.9 498.78)" stroke="#444" stroke-width="0.6" fill="#fff" />
<path d="M512.3000000000001,499.383 L519.1,497.78299999999996 L517.1,503.383 L512.1,501.78299999999996 Z M517.1,503.383 L519.5,498.78299999999996" stroke="#444" stroke-width="0.5" fill="none" />
<path d="M509.20000000000005,509.383 Q512.3000000000001,512.983 516.5,513.2829999999999" stroke="#222" stroke-width="1.5" fill="none" />
<line x1="529.7" y1="285" x2="540.4" y2="285" stroke="#666" stroke-width="0.75" />
<line x1="529.7" y1="338.5" x2="540.4" y2="338.5" stroke="#666" stroke-width="0.75" />
<line x1="529.7" y1="393.1" x2="540.4" y2="393.1" stroke="#666" stroke-width="0.75" />
<line x1="529.7" y1="451.9" x2="540.4" y2="451.9" stroke="#666" stroke-width="0.75" />
<line x1="529.7" y1="498.9" x2="540.4" y2="498.9" stroke="#666" stroke-width="0.75" />
<path d="M92.4,197 Q85,197.6 84.2,204 Q84.6,210.6 89.6,211.6" stroke="#888" stroke-width="0.5" fill="none" />
<path d="M84.6,209.8 l-0.6,1.2" stroke="#555" stroke-width="0.6" fill="none" />
<path d="M61.4,269.8 L83.6,202 Q85.2,194.6 90.6,191.4 Q95.6,189 99.6,192.6 Q101.2,194.6 101.4,197.2" stroke="#3a3a3a" stroke-width="1.5" fill="none" stroke-linecap="butt"/>
<path d="M61.4,269.8 L83.6,202 Q85.2,194.6 90.6,191.4 Q95.6,189 99.6,192.6 Q101.2,194.6 101.4,197.2" stroke="#888" stroke-width="0.5" fill="none" stroke-dasharray="0.6 0.6" stroke-linecap="butt"/>
<path d="M88.6,195.6 Q92.6,192.6 97.4,194.2 Q99.4,195.4 100,197.4" stroke="#333" stroke-width="0.6" fill="none" />
<path d="M78.1,201.5 L55.5,269.6 M82.1,202.6 L59.5,270.8 M78.1,201.5 L82.1,202.6" stroke="#1a1a1a" stroke-width="0.85" fill="none" />
<path d="M94.4,217.4 L65.2,274" stroke="#2a2a2a" stroke-width="2.3" fill="none" stroke-dasharray="0.9 0.5" stroke-linecap="butt"/>
<ellipse cx="60.6" cy="276.6" rx="5.3" ry="3.5" transform="rotate(-62 60.6 276.6)" stroke="#1a1a1a" stroke-width="1.8" fill="#fff" />
<ellipse cx="60.8" cy="276.6" rx="3.4" ry="1.8" transform="rotate(-62 60.8 276.6)" stroke="#555" stroke-width="0.5" fill="none" />
<ellipse cx="103.5" cy="210.0" rx="4.3" ry="8.3" transform="rotate(18 103.5 210.0)" stroke="#222" stroke-width="0.7" fill="#9a9a9a" />
<ellipse cx="105.0" cy="210.6" rx="4.1" ry="8.0" transform="rotate(18 105.0 210.6)" stroke="#111" stroke-width="0.6" fill="#141414" />
<ellipse cx="105.6" cy="211.2" rx="2.0" ry="4.3" transform="rotate(18 105.6 211.2)" stroke="#222" stroke-width="0.5" fill="#ccc" />
<polygon points="106.92877307581227,207.11045697993083 114.52877307581228,210.11045697993083 111.87122692418772,218.28954302006915 104.27122692418772,215.28954302006915" stroke="none" stroke-width="0.8" fill="#d6d6d6" />
<line x1="104.49" y1="214.61" x2="112.09" y2="217.61" stroke="#555" stroke-width="0.55" />
<line x1="104.86" y1="213.47" x2="112.46" y2="216.47" stroke="#fff" stroke-width="0.55" />
<line x1="105.23" y1="212.34" x2="112.83" y2="215.34" stroke="#555" stroke-width="0.55" />
<line x1="105.6" y1="211.2" x2="113.2" y2="214.2" stroke="#fff" stroke-width="0.55" />
<line x1="105.97" y1="210.06" x2="113.57" y2="213.06" stroke="#555" stroke-width="0.55" />
<line x1="106.34" y1="208.93" x2="113.94" y2="211.93" stroke="#fff" stroke-width="0.55" />
<line x1="106.71" y1="207.79" x2="114.31" y2="210.79" stroke="#555" stroke-width="0.55" />
<line x1="106.92877307581227" y1="207.11045697993083" x2="114.52877307581228" y2="210.11045697993083" stroke="#222" stroke-width="0.6" />
<line x1="104.27122692418772" y1="215.28954302006915" x2="111.87122692418772" y2="218.28954302006915" stroke="#222" stroke-width="0.6" />
<ellipse cx="113.2" cy="214.2" rx="1.9" ry="4.3" transform="rotate(18 113.2 214.2)" stroke="#333" stroke-width="0.6" fill="#fff" />
<g transform="translate(73.4 188.6)"><path d="M-2.5,-2.0 L-0.4,-1.3 L-1.1,1.2 L-3.2,0.5 Z" fill="#e02028" stroke="#5a0a0c" stroke-width="0.5"/><ellipse cx="0.5" cy="0.4" rx="1.9" ry="2.0" transform="rotate(20 0.5 0.4)" fill="#d8141e" stroke="#4a0608" stroke-width="0.6"/><path d="M0.3,-1.0 L-0.2,1.7" stroke="#7a0c10" stroke-width="0.5"/></g>
<g transform="translate(82.4 192.0)"><path d="M-2.5,-2.0 L-0.4,-1.3 L-1.1,1.2 L-3.2,0.5 Z" fill="#e02028" stroke="#5a0a0c" stroke-width="0.5"/><ellipse cx="0.5" cy="0.4" rx="1.9" ry="2.0" transform="rotate(20 0.5 0.4)" fill="#d8141e" stroke="#4a0608" stroke-width="0.6"/><path d="M0.3,-1.0 L-0.2,1.7" stroke="#7a0c10" stroke-width="0.5"/></g>
<g transform="translate(66.0 202.1)"><path d="M-2.5,-2.0 L-0.4,-1.3 L-1.1,1.2 L-3.2,0.5 Z" fill="#e02028" stroke="#5a0a0c" stroke-width="0.5"/><ellipse cx="0.5" cy="0.4" rx="1.9" ry="2.0" transform="rotate(20 0.5 0.4)" fill="#d8141e" stroke="#4a0608" stroke-width="0.6"/><path d="M0.3,-1.0 L-0.2,1.7" stroke="#7a0c10" stroke-width="0.5"/></g>
<g transform="translate(73.4 204.9)"><path d="M-2.5,-2.0 L-0.4,-1.3 L-1.1,1.2 L-3.2,0.5 Z" fill="#e02028" stroke="#5a0a0c" stroke-width="0.5"/><ellipse cx="0.5" cy="0.4" rx="1.9" ry="2.0" transform="rotate(20 0.5 0.4)" fill="#d8141e" stroke="#4a0608" stroke-width="0.6"/><path d="M0.3,-1.0 L-0.2,1.7" stroke="#7a0c10" stroke-width="0.5"/></g>
<g transform="translate(98.8 201.0)"><path d="M-2.5,-2.0 L-0.4,-1.3 L-1.1,1.2 L-3.2,0.5 Z" fill="#e02028" stroke="#5a0a0c" stroke-width="0.5"/><ellipse cx="0.5" cy="0.4" rx="1.9" ry="2.0" transform="rotate(20 0.5 0.4)" fill="#d8141e" stroke="#4a0608" stroke-width="0.6"/><path d="M0.3,-1.0 L-0.2,1.7" stroke="#7a0c10" stroke-width="0.5"/></g>
<g transform="translate(94.8 206.1)"><path d="M-2.5,-2.0 L-0.4,-1.3 L-1.1,1.2 L-3.2,0.5 Z" fill="#e02028" stroke="#5a0a0c" stroke-width="0.5"/><ellipse cx="0.5" cy="0.4" rx="1.9" ry="2.0" transform="rotate(20 0.5 0.4)" fill="#d8141e" stroke="#4a0608" stroke-width="0.6"/><path d="M0.3,-1.0 L-0.2,1.7" stroke="#7a0c10" stroke-width="0.5"/></g>
<g transform="translate(94.3 211.7)"><path d="M-2.5,-2.0 L-0.4,-1.3 L-1.1,1.2 L-3.2,0.5 Z" fill="#e02028" stroke="#5a0a0c" stroke-width="0.5"/><ellipse cx="0.5" cy="0.4" rx="1.9" ry="2.0" transform="rotate(20 0.5 0.4)" fill="#d8141e" stroke="#4a0608" stroke-width="0.6"/><path d="M0.3,-1.0 L-0.2,1.7" stroke="#7a0c10" stroke-width="0.5"/></g>
<g transform="translate(49.9 268.1)"><path d="M-2.5,-2.0 L-0.4,-1.3 L-1.1,1.2 L-3.2,0.5 Z" fill="#e02028" stroke="#5a0a0c" stroke-width="0.5"/><ellipse cx="0.5" cy="0.4" rx="1.9" ry="2.0" transform="rotate(20 0.5 0.4)" fill="#d8141e" stroke="#4a0608" stroke-width="0.6"/><path d="M0.3,-1.0 L-0.2,1.7" stroke="#7a0c10" stroke-width="0.5"/></g>
<g transform="translate(51.6 273.1)"><path d="M-2.5,-2.0 L-0.4,-1.3 L-1.1,1.2 L-3.2,0.5 Z" fill="#e02028" stroke="#5a0a0c" stroke-width="0.5"/><ellipse cx="0.5" cy="0.4" rx="1.9" ry="2.0" transform="rotate(20 0.5 0.4)" fill="#d8141e" stroke="#4a0608" stroke-width="0.6"/><path d="M0.3,-1.0 L-0.2,1.7" stroke="#7a0c10" stroke-width="0.5"/></g>
<path d="M128.6,192.6 L127.2,186.6 L129.2,186 L130.8,191.4" stroke="#222" stroke-width="0.7" fill="#fff" />
<path d="M112.4,248.2 L106.6,251.6 L107.4,253.4 L113,250.6" stroke="#222" stroke-width="0.7" fill="#fff" />
<path d="M170.6,194.4 L171.4,201.6 L173.2,201.2 L172.6,195" stroke="#222" stroke-width="0.7" fill="#fff" />
<ellipse cx="141.5" cy="224.7" rx="29.0" ry="42.6" transform="rotate(17 141.5 224.7)" stroke="#1a1a1a" stroke-width="0.95" fill="#fff" />
<ellipse cx="144.1" cy="225.6" rx="27.6" ry="41.4" transform="rotate(17 144.1 225.6)" stroke="#222" stroke-width="0.7" fill="#fff" />
<clipPath id="cw"><ellipse cx="145.1" cy="226.0" rx="24.4" ry="38.0" transform="rotate(17 145.1 226.0)"/></clipPath>
<ellipse cx="145.1" cy="226.0" rx="24.4" ry="38.0" transform="rotate(17 145.1 226.0)" stroke="#222" stroke-width="0.7" fill="#fff" />
<g clip-path="url(#cw)">
<ellipse cx="142.3" cy="225.0" rx="24.4" ry="38.0" transform="rotate(17 142.3 225.0)" stroke="#555" stroke-width="0.5" fill="none" />
<polygon points="139.45108912264945,224.6200784842518 132.25108912264946,197.1200784842518 129.34891087735056,197.8799215157482 136.54891087735055,225.3799215157482" stroke="#222" stroke-width="0.7" fill="#fff" />
<line x1="140.85108912264946" y1="225.1200784842518" x2="133.65108912264947" y2="197.6200784842518" stroke="#444" stroke-width="0.5" />
<polygon points="137.0352118703651,223.85144270281558 112.03521187036509,244.85144270281558 113.96478812963491,247.14855729718442 138.9647881296349,226.14855729718442" stroke="#222" stroke-width="0.7" fill="#fff" />
<line x1="138.4352118703651" y1="224.35144270281558" x2="113.4352118703651" y2="245.35144270281558" stroke="#444" stroke-width="0.5" />
<polygon points="136.5128313746603,225.19577916080422 141.71283137466028,264.6957791608042 144.6871686253397,264.3042208391958 139.4871686253397,224.80422083919578" stroke="#222" stroke-width="0.7" fill="#fff" />
<line x1="137.9128313746603" y1="225.69577916080422" x2="143.1128313746603" y2="265.1957791608042" stroke="#444" stroke-width="0.5" />
<polygon points="139.08620689655172,226.0344827586207 169.08620689655172,194.5344827586207 166.91379310344828,192.4655172413793 136.91379310344828,223.9655172413793" stroke="#222" stroke-width="0.7" fill="#fff" />
<line x1="140.48620689655172" y1="226.5344827586207" x2="170.48620689655172" y2="195.0344827586207" stroke="#444" stroke-width="0.5" />
</g>
<path d="M130,219.2 Q129.8,214 134.6,214 L142,216 Q145.8,217.6 145.6,222.6 L144.8,232 Q144,236.4 139.6,235.8 L132.8,233.6 Q129.6,232 129.7,227.4 Z" stroke="#222" stroke-width="0.8" fill="#fff" />
<ellipse cx="138" cy="225" rx="3.0" ry="4.9" transform="rotate(17 138 225)" stroke="#222" stroke-width="0.7" fill="#fff" />
<line x1="138.4" y1="221.4" x2="138" y2="224.2" stroke="#444" stroke-width="0.5" />
<ellipse cx="166.3" cy="236.6" rx="19.6" ry="34.4" transform="rotate(22 166.3 236.6)" stroke="#333" stroke-width="0.7" fill="#fff" />
<path d="M185.8,207.6 l2.6,-2.0 l2.2,1.4 l-1.4,2.6" stroke="#222" stroke-width="0.7" fill="#fff" />
<ellipse cx="169.3" cy="237.7" rx="17.7" ry="31.6" transform="rotate(22 169.3 237.7)" stroke="#0a0a0a" stroke-width="2.2" fill="#fff" />
<clipPath id="ct"><ellipse cx="169.3" cy="237.7" rx="16.7" ry="30.6" transform="rotate(22 169.3 237.7)"/></clipPath>
<g clip-path="url(#ct)">
<ellipse cx="170.9" cy="238.29999999999998" rx="15.6" ry="28" transform="rotate(22 170.9 238.29999999999998)" stroke="#444" stroke-width="0.6" fill="none" />
<ellipse cx="169.9" cy="237.9" rx="12.6" ry="22.8" transform="rotate(22 169.9 237.9)" stroke="#222" stroke-width="0.75" fill="none" />
<ellipse cx="169.45" cy="237.4" rx="10.0" ry="18.2" transform="rotate(22 169.45 237.4)" stroke="#222" stroke-width="0.75" fill="none" />
<ellipse cx="169.0" cy="236.9" rx="7.6" ry="13.9" transform="rotate(22 169.0 236.9)" stroke="#222" stroke-width="0.75" fill="none" />
<ellipse cx="168.55" cy="236.4" rx="5.4" ry="9.9" transform="rotate(22 168.55 236.4)" stroke="#222" stroke-width="0.75" fill="none" />
<ellipse cx="168.1" cy="235.9" rx="3.4" ry="6.1" transform="rotate(22 168.1 235.9)" stroke="#222" stroke-width="0.75" fill="none" />
<ellipse cx="167.65" cy="235.4" rx="1.6" ry="2.9" transform="rotate(22 167.65 235.4)" stroke="#222" stroke-width="0.75" fill="none" />
<path d="M171.0,237.1 L172.3,240.0 L172.7,244.1 L171.9,249.0 L170.1,254.3 L167.2,259.5 L163.4,263.9" stroke="#444" stroke-width="0.55" fill="none" />
<path d="M169.2,240.0 L169.0,244.0 L167.7,248.4 L165.4,252.6 L162.4,256.1 L158.8,258.6 L155.1,259.4" stroke="#444" stroke-width="0.55" fill="none" />
<path d="M167.0,241.3 L165.4,245.0 L163.1,248.1 L160.3,250.2 L157.3,250.8 L154.6,249.6 L152.4,246.6" stroke="#444" stroke-width="0.55" fill="none" />
<path d="M165.3,240.6 L163.0,242.7 L160.6,243.5 L158.5,242.7 L156.8,240.2 L156.0,236.1 L156.4,230.5" stroke="#444" stroke-width="0.55" fill="none" />
<path d="M164.6,238.1 L162.7,237.9 L161.3,236.2 L160.7,233.0 L161.1,228.5 L162.7,223.1 L165.5,217.2" stroke="#444" stroke-width="0.55" fill="none" />
<path d="M165.2,234.8 L164.5,232.5 L164.7,229.1 L166.1,224.8 L168.5,220.1 L171.9,215.6 L176.3,211.8" stroke="#444" stroke-width="0.55" fill="none" />
<path d="M167.0,232.0 L167.9,228.6 L169.7,224.8 L172.6,221.2 L176.2,218.3 L180.3,216.5 L184.6,216.3" stroke="#444" stroke-width="0.55" fill="none" />
<path d="M169.2,230.7 L171.4,227.6 L174.3,225.1 L177.7,223.7 L181.2,223.7 L184.6,225.5 L187.3,229.1" stroke="#444" stroke-width="0.55" fill="none" />
<path d="M171.0,231.4 L173.8,229.9 L176.8,229.7 L179.5,231.2 L181.7,234.3 L183.1,239.0 L183.4,245.2" stroke="#444" stroke-width="0.55" fill="none" />
<path d="M171.7,233.9 L174.2,234.7 L176.2,237.0 L177.3,240.8 L177.5,246.0 L176.5,252.0 L174.2,258.5" stroke="#444" stroke-width="0.55" fill="none" />
</g>
<ellipse cx="195" cy="249.4" rx="25.3" ry="42.7" transform="rotate(17.5 195 249.4)" stroke="#1a1a1a" stroke-width="0.9" fill="#fff" />
<ellipse cx="199.4" cy="251.1" rx="25.3" ry="42.7" transform="rotate(17.5 199.4 251.1)" stroke="#333" stroke-width="0.7" fill="#fff" />
<ellipse cx="204.4" cy="253.0" rx="25.3" ry="42.7" transform="rotate(17.5 204.4 253.0)" stroke="#444" stroke-width="0.6" fill="#fff" />
<polygon points="217.24013763883246,212.27628620305072 233.84013763883246,218.6762862030507 208.15986236116754,300.1237137969493 191.55986236116755,293.7237137969493" stroke="none" stroke-width="0.8" fill="#fff" />
<ellipse cx="221" cy="259.4" rx="25.3" ry="42.7" transform="rotate(17.5 221 259.4)" stroke="none" stroke-width="0.8" fill="#fff" />
<line x1="208.84013763883246" y1="209.27628620305072" x2="233.84013763883246" y2="218.6762862030507" stroke="#1a1a1a" stroke-width="0.8" />
<line x1="183.65986236116754" y1="290.3237137969493" x2="208.15986236116754" y2="300.1237137969493" stroke="#1a1a1a" stroke-width="0.8" />
<ellipse cx="193.7" cy="248.2" rx="2.0" ry="3.3" transform="rotate(17.5 193.7 248.2)" stroke="#333" stroke-width="0.6" fill="#fff" />
<line x1="192.9" y1="245.6" x2="194.7" y2="250.8" stroke="#333" stroke-width="0.5" />
<path d="M335.2,171.5 Q335.2,169 337.6,169.9 L386.4,188.6 Q388.6,189.5 388.6,192 L388.6,244.5 Q388.6,247.6 386,246.6 L337.6,228.2 Q335.2,227.2 335.2,224.6 Z" stroke="#1a1a1a" stroke-width="0.9" fill="#fff" />
<path d="M337.4,182.6 L386.4,201.4 M337.4,185.4 L386.4,204.4 M337.4,182.6 L337.4,222" stroke="#333" stroke-width="0.6" fill="none" />
<line x1="344.6" y1="191" x2="380" y2="204.6" stroke="#1a1a1a" stroke-width="1.7" />
<line x1="344.6" y1="213.4" x2="357.6" y2="218.2" stroke="#1a1a1a" stroke-width="1.7" />
<path d="M343,216.6 L356,221.4 M341,222 L352,226.2 M343,194 L343,212" stroke="#444" stroke-width="0.6" fill="none" />
<path d="M340.4,172.7 q1.7,0 1.6,2.4 l-0.5,1.7 q1.5,0.8 1.4,2.5 q-0.2,2.1 -2.5,2.1 q-2.3,0 -2.5,-2.1 q-0.1,-1.7 1.4,-2.5 l-0.5,-1.7 q-0.1,-2.4 1.6,-2.4 z" stroke="#1a1a1a" stroke-width="0.8" fill="#fff" />
<path d="M384,190.29999999999998 q1.7,0 1.6,2.4 l-0.5,1.7 q1.5,0.8 1.4,2.5 q-0.2,2.1 -2.5,2.1 q-2.3,0 -2.5,-2.1 q-0.1,-1.7 1.4,-2.5 l-0.5,-1.7 q-0.1,-2.4 1.6,-2.4 z" stroke="#1a1a1a" stroke-width="0.8" fill="#fff" />
<path d="M339.8,217.5 q1.7,0 1.6,2.4 l-0.5,1.7 q1.5,0.8 1.4,2.5 q-0.2,2.1 -2.5,2.1 q-2.3,0 -2.5,-2.1 q-0.1,-1.7 1.4,-2.5 l-0.5,-1.7 q-0.1,-2.4 1.6,-2.4 z" stroke="#1a1a1a" stroke-width="0.8" fill="#fff" />
<path d="M383.6,235.5 q1.7,0 1.6,2.4 l-0.5,1.7 q1.5,0.8 1.4,2.5 q-0.2,2.1 -2.5,2.1 q-2.3,0 -2.5,-2.1 q-0.1,-1.7 1.4,-2.5 l-0.5,-1.7 q-0.1,-2.4 1.6,-2.4 z" stroke="#1a1a1a" stroke-width="0.8" fill="#fff" />
<path d="M340.3,182 L339.9,216" stroke="#2a2a2a" stroke-width="1.7" fill="none" stroke-dasharray="2.6 1.0" stroke-linecap="butt"/>
<path d="M340.3,182 L339.9,216" stroke="#fff" stroke-width="0.6" fill="none" stroke-dasharray="2.6 1.0" stroke-linecap="butt"/>
<polygon points="337.2,189.6 303.5,215.6 306,240 337.2,220.6" stroke="#333" stroke-width="0.7" fill="#fff" />
<line x1="313" y1="218" x2="333" y2="206.5" stroke="#1a1a1a" stroke-width="1.6" />
<line x1="316.2" y1="224.9" x2="334.5" y2="213.4" stroke="#1a1a1a" stroke-width="1.6" />
<line x1="317.6" y1="231" x2="336.8" y2="221" stroke="#333" stroke-width="0.8" />
<line x1="309" y1="221.6" x2="335" y2="203" stroke="#555" stroke-width="0.5" />
<path d="M335.4,181.2 L307.4,203.4 Q305.6,205 305.8,207.4 L306.2,210.6 Q306.6,212.6 308.6,211.4 L336.8,189.4 Z" stroke="#1a1a1a" stroke-width="0.8" fill="#fff" />
<line x1="308.2" y1="206.6" x2="336.4" y2="184.6" stroke="#444" stroke-width="0.6" />
<ellipse cx="235.20000000000002" cy="263.25" rx="39.4" ry="69" transform="rotate(20.6 235.20000000000002 263.25)" stroke="#2a2a2a" stroke-width="0.75" fill="#fff" />
<ellipse cx="237.4" cy="264.1" rx="39.4" ry="69" transform="rotate(20.6 237.4 264.1)" stroke="#2a2a2a" stroke-width="0.75" fill="#fff" />
<ellipse cx="239.0" cy="264.70000000000005" rx="37.199999999999996" ry="66.1" transform="rotate(20.6 239.0 264.70000000000005)" stroke="#666" stroke-width="0.5" fill="none" />
<ellipse cx="238.9" cy="264.8" rx="26.5" ry="45.5" transform="rotate(20.6 238.9 264.8)" stroke="#777" stroke-width="0.6" fill="none" />
<ellipse cx="241.9" cy="266.0" rx="25.5" ry="44" transform="rotate(20.6 241.9 266.0)" stroke="#999" stroke-width="0.5" fill="none" />
<polygon points="217.6,238.8 220.0,236.9 221.4,239.20000000000002 219.0,241.10000000000002" stroke="#333" stroke-width="0.6" fill="#fff" />
<polygon points="240.8,249.6 243.20000000000002,247.7 244.60000000000002,250.0 242.20000000000002,251.9" stroke="#333" stroke-width="0.6" fill="#fff" />
<polygon points="208.6,302.6 211.0,300.70000000000005 212.4,303.0 210.0,304.90000000000003" stroke="#333" stroke-width="0.6" fill="#fff" />
<ellipse cx="272.6" cy="280.40000000000003" rx="43.4" ry="67.6" transform="rotate(16 272.6 280.40000000000003)" stroke="#222" stroke-width="0.9" fill="#fff" />
<ellipse cx="273.8" cy="280.85" rx="43.4" ry="67.6" transform="rotate(16 273.8 280.85)" stroke="#666" stroke-width="1.4" fill="#fff" stroke-dasharray="0.7 0.6" stroke-linecap="butt"/>
<ellipse cx="275.0" cy="281.3" rx="43.4" ry="67.6" transform="rotate(16 275.0 281.3)" stroke="#1a1a1a" stroke-width="0.9" fill="#fff" />
<ellipse cx="275.8" cy="281.6" rx="40.6" ry="64.1" transform="rotate(16 275.8 281.6)" stroke="#666" stroke-width="0.5" fill="none" />
<clipPath id="cf"><ellipse cx="275.0" cy="281.3" rx="26.6" ry="44.5" transform="rotate(16 275.0 281.3)"/></clipPath>
<ellipse cx="275.0" cy="281.3" rx="26.6" ry="44.5" transform="rotate(16 275.0 281.3)" stroke="#444" stroke-width="0.7" fill="#fff" />
<g clip-path="url(#cf)">
<ellipse cx="277.6" cy="282.3" rx="25.4" ry="43" transform="rotate(16 277.6 282.3)" stroke="#777" stroke-width="0.5" fill="none" />
<ellipse cx="281.0" cy="283.7" rx="23.4" ry="40.5" transform="rotate(16 281.0 283.7)" stroke="#888" stroke-width="0.5" fill="none" />
<line x1="259.5" y1="268" x2="266" y2="251" stroke="#555" stroke-width="0.6" />
<line x1="264.5" y1="271" x2="271" y2="254.5" stroke="#555" stroke-width="0.6" />
<line x1="254" y1="277.5" x2="243" y2="291.5" stroke="#555" stroke-width="0.6" />
<line x1="258" y1="281.5" x2="246" y2="298" stroke="#555" stroke-width="0.6" />
<line x1="261" y1="284" x2="258" y2="316" stroke="#555" stroke-width="0.6" />
<line x1="266.5" y1="285" x2="264.5" y2="318" stroke="#555" stroke-width="0.6" />
<path d="M259.5,268 L264.5,271 M254,277.5 L258,281.5 M261,284 L266.5,285" stroke="#777" stroke-width="0.5" fill="none" />
<path d="M280.6,239.5 Q286.6,246 286.9,263.5 Q286.6,273 284.5,279.5" stroke="#888" stroke-width="0.5" fill="none" />
<path d="M271.7,244.9 Q281.6,246.4 284.4,262 Q285,268.6 283.2,274.1" stroke="#999" stroke-width="0.5" fill="none" />
</g>
<polygon points="256.6,270.6 264.6,273.8 262,282.6 254,279.4" stroke="none" stroke-width="0.8" fill="#fff" />
<ellipse cx="255.3" cy="275" rx="2.6" ry="4.6" transform="rotate(16 255.3 275)" stroke="#555" stroke-width="0.6" fill="#fff" />
<polygon points="256.6,270.6 264.6,273.8 262,282.6 254,279.4" stroke="none" stroke-width="0.8" fill="#fff" />
<line x1="256.6" y1="270.5" x2="264.6" y2="273.7" stroke="#555" stroke-width="0.6" />
<line x1="254" y1="279.5" x2="262" y2="282.7" stroke="#555" stroke-width="0.6" />
<ellipse cx="263.3" cy="278.2" rx="2.6" ry="4.6" transform="rotate(16 263.3 278.2)" stroke="#444" stroke-width="0.6" fill="#fff" />
<ellipse cx="263.5" cy="278.3" rx="1.5" ry="2.5" transform="rotate(16 263.5 278.3)" stroke="#444" stroke-width="0.6" fill="#fff" />
<ellipse cx="271.6" cy="280.6" rx="6.6" ry="11.6" transform="rotate(16 271.6 280.6)" stroke="#999" stroke-width="0.5" fill="#fff" />
<polygon points="273.9,276.6 280.8,279.4 278.4,286.6 271.5,283.8" stroke="none" stroke-width="0.8" fill="#fff" />
<ellipse cx="272.7" cy="280.2" rx="2.5" ry="4.0" transform="rotate(16 272.7 280.2)" stroke="#444" stroke-width="0.6" fill="#fff" />
<polygon points="273.9,276.5 280.8,279.3 278.4,286.7 271.5,283.9" stroke="none" stroke-width="0.8" fill="#fff" />
<line x1="273.9" y1="276.4" x2="280.8" y2="279.2" stroke="#333" stroke-width="0.6" />
<line x1="271.5" y1="284" x2="278.4" y2="286.8" stroke="#333" stroke-width="0.6" />
<ellipse cx="279.6" cy="283" rx="2.3" ry="3.9" transform="rotate(16 279.6 283)" stroke="#333" stroke-width="0.7" fill="#fff" />
<polygon points="288.5,278.5 293.7,279.8 289.3,293.2 284.1,291.9" stroke="none" stroke-width="0.8" fill="#fff" />
<ellipse cx="286.3" cy="285.2" rx="4.0" ry="7.1" transform="rotate(16 286.3 285.2)" stroke="#333" stroke-width="0.7" fill="#fff" />
<polygon points="288.5,278.5 293.7,279.8 289.3,293.2 284.1,291.9" stroke="none" stroke-width="0.8" fill="#fff" />
<line x1="288.5" y1="278.4" x2="293.7" y2="279.7" stroke="#333" stroke-width="0.7" />
<line x1="284.1" y1="292" x2="289.3" y2="293.3" stroke="#333" stroke-width="0.7" />
<ellipse cx="291.5" cy="286.5" rx="4.0" ry="7.1" transform="rotate(16 291.5 286.5)" stroke="#222" stroke-width="0.8" fill="#fff" />
<ellipse cx="292.1" cy="287" rx="2.4" ry="4.1" transform="rotate(16 292.1 287)" stroke="#111" stroke-width="1.0" fill="#ddd" />
<path d="M291,285 l2.4,0.8 l-0.4,2.4" stroke="#222" stroke-width="0.6" fill="none" />
<path d="M280,337 Q293,330 303,314" stroke="#333" stroke-width="1.3" fill="none" stroke-dasharray="5 2.5" stroke-linecap="butt"/>
<path d="M386.6,203.2 L316.9,254.8 Q314.6,260 316.6,267.4 Q318,273.4 321.4,273 L329.9,271.3 L387.8,235.8 L388.6,244.5 L388.6,203.6 Z" stroke="none" stroke-width="0.8" fill="#fff" />
<path d="M388.2,202 L316.9,254.8 Q314.6,260 316.6,267.4 Q318,273.4 321.4,273 L329.9,271.3 L388.4,235.6" stroke="#1a1a1a" stroke-width="0.9" fill="none" />
<line x1="384.4" y1="207" x2="351" y2="231" stroke="#333" stroke-width="0.7" />
<line x1="381.4" y1="235.6" x2="335.2" y2="264.7" stroke="#333" stroke-width="0.7" />
<line x1="335.2" y1="264.7" x2="325" y2="272" stroke="#333" stroke-width="0.6" />
<path d="M386.2,204.6 L386.2,236.8 M382,208.6 L382,235.4" stroke="#333" stroke-width="0.6" fill="none" />
<path d="M388.6,236 L388.6,244.5 Q388.6,247.6 386,246.6 L380.4,244.4 L380.6,240.4" stroke="#1a1a1a" stroke-width="0.9" fill="#fff" />
<path d="M383.6,236.5 q1.7,0 1.6,2.4 l-0.5,1.7 q1.5,0.8 1.4,2.5 q-0.2,2.1 -2.5,2.1 q-2.3,0 -2.5,-2.1 q-0.1,-1.7 1.4,-2.5 l-0.5,-1.7 q-0.1,-2.4 1.6,-2.4 z" stroke="#1a1a1a" stroke-width="0.8" fill="#fff" />
<path d="M340.6,247.9 L346,233.3 L376.6,215.7 Q380.2,214.6 379.8,218.6 L377,227.6 L346,254.8 Z" stroke="#1a1a1a" stroke-width="0.9" fill="#fff" />
<path d="M342.8,247.2 L347.6,234.8 L376.4,218.2 Q377.6,218 377.4,219.6 L375.2,226.4 L346.2,252 Z" stroke="#444" stroke-width="0.6" fill="none" />
<line x1="346.6" y1="244.6" x2="375.6" y2="222.8" stroke="#1a1a1a" stroke-width="1.5" />
<circle cx="332.6" cy="244.3" r="0.6" fill="#222"/>
<circle cx="323.8" cy="252.9" r="0.6" fill="#222"/>
<circle cx="331.4" cy="255.2" r="0.6" fill="#222"/>
<circle cx="336.3" cy="250.2" r="0.6" fill="#222"/>
<circle cx="326.8" cy="256" r="0.6" fill="#222"/>
<circle cx="334.5" cy="261.2" r="0.6" fill="#222"/>
<circle cx="328" cy="262.6" r="0.6" fill="#222"/>
<path d="M324.6,257.6 q1.6,-1.6 2.4,0.2 l-4.4,12.4 q-1.6,1.6 -2.4,-0.2 z" stroke="#1a1a1a" stroke-width="0.7" fill="#fff" />
<path d="M313.2,266.4 q-0.8,3.8 1.4,4.6 q2.2,0.4 3.6,-3.2 M311.4,268.2 l1.2,-2.2" stroke="#1a1a1a" stroke-width="0.8" fill="none" />
<path d="M306.3,271.9 L308.1,271.87 L308.6,273.6 L310.61,274.58 L310.8,276.8 L312.38,277.51 L312.0,279.2 L313.41,280.27 L312.7,281.9 L314.03,283.16 L313.2,284.8 L314.25,286.29 L313.1,287.7 L314.04,289.26 L312.8,290.6 L313.52,292.31 L312.1,293.5 L312.75,295.16 L311.3,296.2 L311.76,297.89 L310.2,298.7 L310.79,300.4 L309.3,301.4 L309.76,303.09 L308.2,303.9 L308.54,305.47 L307,305.9 L307.17,307.48 L305.6,307.7 L305.92,309.21 L304.4,309.5 L304.58,310.97 L303.1,311 Q301.6,313.6 299.8,314.2 Q297.6,314.8 296,314.2 Q294,313 294,309.6 Q294.2,304.6 296.6,301.3 Q298.6,298.6 301.6,297 Q303.4,295.8 302.4,292.9 Q299.6,288.6 299.2,282.4 Q299.4,278 301.8,275 Q303.8,272.2 306.3,271.9 Z" stroke="#6a3f86" stroke-width="0.8" fill="#b986cb" />
<path d="M304.6,274.6 Q301.6,279 301.8,284.6 Q302.6,290 305,293.2 Q306.4,295.4 304.8,297.6 Q299,300.6 296.8,306.6" stroke="#6a3f86" stroke-width="0.5" fill="none" />
<circle cx="305.8" cy="283.2" r="0.6" fill="#6a3f86"/><circle cx="308.6" cy="290.4" r="0.6" fill="#6a3f86"/><circle cx="298.4" cy="308.6" r="0.6" fill="#6a3f86"/>
<line x1="314.6" y1="282.3" x2="332.4" y2="282.3" stroke="#b986cb" stroke-width="1.2" />
<path d="M266.6,310.6 l4.0,1.6 l-0.6,2.8 l-4.0,-1.6 z" stroke="#444" stroke-width="0.5" fill="#fff" />
<ellipse cx="266.2" cy="312.2" rx="1.2" ry="1.8" transform="rotate(18 266.2 312.2)" stroke="#444" stroke-width="0.5" fill="#fff" />
<path d="M270.8,312.6 l1.4,1.2 l-0.6,1.2" stroke="#444" stroke-width="0.5" fill="none" />
<path d="M275.2,310.4 Q275.8,309.2 277.4,309.6 L280.4,310.8 Q286.4,313.6 286.6,318.8 Q286.4,323 282.6,323.2 L279.4,322.6 Q277,321.8 276.8,320 Z" stroke="#a8327a" stroke-width="0.7" fill="#e788b8" />
<path d="M277.4,309.6 L279.2,321.6" stroke="#a8327a" stroke-width="0.5" fill="none" />
<ellipse cx="283.4" cy="318.6" rx="2.4" ry="3.2" transform="rotate(18 283.4 318.6)" stroke="#a8327a" stroke-width="0.6" fill="#f2b3d2" />
<ellipse cx="283.6" cy="318.7" rx="1.1" ry="1.6" transform="rotate(18 283.6 318.7)" stroke="#a8327a" stroke-width="0.5" fill="#fff" />
<ellipse cx="289.1" cy="320.4" rx="1.4" ry="2.0" transform="rotate(18 289.1 320.4)" stroke="#d8609e" stroke-width="0.7" fill="#fff" />
<path d="M278.2,325.4 L276.4,334.2" stroke="#5a1a3e" stroke-width="2.3" fill="none" stroke-linecap="butt"/>
<path d="M278.2,325.4 L276.4,334.2" stroke="#b0628e" stroke-width="2.3" fill="none" stroke-dasharray="0.5 0.9" stroke-linecap="butt"/>
<ellipse cx="275.8" cy="320.2" rx="28" ry="25.4" fill="none" stroke="#f5a3ca" stroke-width="1.6"/>
<line x1="290" y1="341.6" x2="293.6" y2="346.4" stroke="#f6a5cb" stroke-width="1.4" />
<line x1="278.8" y1="341" x2="278.6" y2="378" stroke="#333" stroke-width="0.8" />
<path d="M355.2,315.6 L357.8,316.8 L326.4,378.2 L322.4,384" stroke="#222" stroke-width="0.7" fill="none" />
<path d="M338,308.4 Q338.4,297.2 347.6,296.1 Q355.8,296 356.8,304.6 Q356.9,308.4 355.2,312 L321.6,385 Q319.6,388.6 316,388 Q312,387 312.4,382 Z" stroke="#1a1a1a" stroke-width="0.9" fill="#fff" />
<path d="M340,308.6 Q340.6,299.2 347.6,298.2 Q354,298.2 354.8,304.8 Q354.8,308 353.4,311" stroke="#333" stroke-width="0.6" fill="none" />
<path d="M340,308.6 L314.4,381.6" stroke="#333" stroke-width="0.6" fill="none" />
<path d="M341.9,309.4 L316.4,380" stroke="#777" stroke-width="0.45" fill="none" />
<ellipse cx="347" cy="310.2" rx="5.6" ry="9.2" transform="rotate(14 347 310.2)" stroke="#1a1a1a" stroke-width="0.8" fill="#fff" />
<path d="M353.4,309.6 L319.8,382.4" stroke="#222" stroke-width="2.0" fill="none" stroke-dasharray="1 0.45" stroke-linecap="butt"/>
<circle cx="347.4" cy="319" r="0.5" fill="#222"/><circle cx="345.2" cy="300.6" r="0.5" fill="#222"/>
<ellipse cx="316.6" cy="383.2" rx="4.0" ry="2.6" transform="rotate(-62 316.6 383.2)" stroke="#1a1a1a" stroke-width="1.2" fill="#fff" />
<ellipse cx="316.8" cy="383.2" rx="2.2" ry="1.2" transform="rotate(-62 316.8 383.2)" stroke="#555" stroke-width="0.5" fill="none" />
<g transform="translate(324.4 292.1)"><path d="M-2.5,-2.0 L-0.4,-1.3 L-1.1,1.2 L-3.2,0.5 Z" fill="#e02028" stroke="#5a0a0c" stroke-width="0.5"/><ellipse cx="0.5" cy="0.4" rx="1.9" ry="2.0" transform="rotate(20 0.5 0.4)" fill="#d8141e" stroke="#4a0608" stroke-width="0.6"/><path d="M0.3,-1.0 L-0.2,1.7" stroke="#7a0c10" stroke-width="0.5"/></g>
<g transform="translate(318.3 296.2)"><path d="M-2.5,-2.0 L-0.4,-1.3 L-1.1,1.2 L-3.2,0.5 Z" fill="#e02028" stroke="#5a0a0c" stroke-width="0.5"/><ellipse cx="0.5" cy="0.4" rx="1.9" ry="2.0" transform="rotate(20 0.5 0.4)" fill="#d8141e" stroke="#4a0608" stroke-width="0.6"/><path d="M0.3,-1.0 L-0.2,1.7" stroke="#7a0c10" stroke-width="0.5"/></g>
<g transform="translate(325.7 299.0)"><path d="M-2.5,-2.0 L-0.4,-1.3 L-1.1,1.2 L-3.2,0.5 Z" fill="#e02028" stroke="#5a0a0c" stroke-width="0.5"/><ellipse cx="0.5" cy="0.4" rx="1.9" ry="2.0" transform="rotate(20 0.5 0.4)" fill="#d8141e" stroke="#4a0608" stroke-width="0.6"/><path d="M0.3,-1.0 L-0.2,1.7" stroke="#7a0c10" stroke-width="0.5"/></g>
<g transform="translate(367.1 299.6)"><path d="M-2.5,-2.0 L-0.4,-1.3 L-1.1,1.2 L-3.2,0.5 Z" fill="#e02028" stroke="#5a0a0c" stroke-width="0.5"/><ellipse cx="0.5" cy="0.4" rx="1.9" ry="2.0" transform="rotate(20 0.5 0.4)" fill="#d8141e" stroke="#4a0608" stroke-width="0.6"/><path d="M0.3,-1.0 L-0.2,1.7" stroke="#7a0c10" stroke-width="0.5"/></g>
<g transform="translate(372.1 305.9)"><path d="M-2.5,-2.0 L-0.4,-1.3 L-1.1,1.2 L-3.2,0.5 Z" fill="#e02028" stroke="#5a0a0c" stroke-width="0.5"/><ellipse cx="0.5" cy="0.4" rx="1.9" ry="2.0" transform="rotate(20 0.5 0.4)" fill="#d8141e" stroke="#4a0608" stroke-width="0.6"/><path d="M0.3,-1.0 L-0.2,1.7" stroke="#7a0c10" stroke-width="0.5"/></g>
<g transform="translate(360.0 308.3)"><path d="M-2.5,-2.0 L-0.4,-1.3 L-1.1,1.2 L-3.2,0.5 Z" fill="#e02028" stroke="#5a0a0c" stroke-width="0.5"/><ellipse cx="0.5" cy="0.4" rx="1.9" ry="2.0" transform="rotate(20 0.5 0.4)" fill="#d8141e" stroke="#4a0608" stroke-width="0.6"/><path d="M0.3,-1.0 L-0.2,1.7" stroke="#7a0c10" stroke-width="0.5"/></g>
<g transform="translate(365.6 310.1)"><path d="M-2.5,-2.0 L-0.4,-1.3 L-1.1,1.2 L-3.2,0.5 Z" fill="#e02028" stroke="#5a0a0c" stroke-width="0.5"/><ellipse cx="0.5" cy="0.4" rx="1.9" ry="2.0" transform="rotate(20 0.5 0.4)" fill="#d8141e" stroke="#4a0608" stroke-width="0.6"/><path d="M0.3,-1.0 L-0.2,1.7" stroke="#7a0c10" stroke-width="0.5"/></g>
<g transform="translate(371.7 317.6)"><path d="M-2.5,-2.0 L-0.4,-1.3 L-1.1,1.2 L-3.2,0.5 Z" fill="#e02028" stroke="#5a0a0c" stroke-width="0.5"/><ellipse cx="0.5" cy="0.4" rx="1.9" ry="2.0" transform="rotate(20 0.5 0.4)" fill="#d8141e" stroke="#4a0608" stroke-width="0.6"/><path d="M0.3,-1.0 L-0.2,1.7" stroke="#7a0c10" stroke-width="0.5"/></g>
<g transform="translate(357.8 324.1)"><path d="M-2.5,-2.0 L-0.4,-1.3 L-1.1,1.2 L-3.2,0.5 Z" fill="#e02028" stroke="#5a0a0c" stroke-width="0.5"/><ellipse cx="0.5" cy="0.4" rx="1.9" ry="2.0" transform="rotate(20 0.5 0.4)" fill="#d8141e" stroke="#4a0608" stroke-width="0.6"/><path d="M0.3,-1.0 L-0.2,1.7" stroke="#7a0c10" stroke-width="0.5"/></g>
<g transform="translate(364.3 326.8)"><path d="M-2.5,-2.0 L-0.4,-1.3 L-1.1,1.2 L-3.2,0.5 Z" fill="#e02028" stroke="#5a0a0c" stroke-width="0.5"/><ellipse cx="0.5" cy="0.4" rx="1.9" ry="2.0" transform="rotate(20 0.5 0.4)" fill="#d8141e" stroke="#4a0608" stroke-width="0.6"/><path d="M0.3,-1.0 L-0.2,1.7" stroke="#7a0c10" stroke-width="0.5"/></g>
<g transform="translate(330.3 384.7)"><path d="M-2.5,-2.0 L-0.4,-1.3 L-1.1,1.2 L-3.2,0.5 Z" fill="#e02028" stroke="#5a0a0c" stroke-width="0.5"/><ellipse cx="0.5" cy="0.4" rx="1.9" ry="2.0" transform="rotate(20 0.5 0.4)" fill="#d8141e" stroke="#4a0608" stroke-width="0.6"/><path d="M0.3,-1.0 L-0.2,1.7" stroke="#7a0c10" stroke-width="0.5"/></g>
<g transform="translate(334.1 389.9)"><path d="M-2.5,-2.0 L-0.4,-1.3 L-1.1,1.2 L-3.2,0.5 Z" fill="#e02028" stroke="#5a0a0c" stroke-width="0.5"/><ellipse cx="0.5" cy="0.4" rx="1.9" ry="2.0" transform="rotate(20 0.5 0.4)" fill="#d8141e" stroke="#4a0608" stroke-width="0.6"/><path d="M0.3,-1.0 L-0.2,1.7" stroke="#7a0c10" stroke-width="0.5"/></g>
<path d="M228.3,350 Q228.2,347.8 230.2,348.5 L239.4,352 Q240.9,352.6 240.9,354.4 L241.2,371.6 L241.8,375.2 L238.2,374 L231,371.2 L228.4,364.6 Z" stroke="#222" stroke-width="0.85" fill="#fff" />
<path d="M229.5,350.6 L229.6,364.2 L231.8,370.2 M239.6,353.6 L239.8,373.6" stroke="#666" stroke-width="0.5" fill="none" />
<path d="M230.9,354.4 Q230.9,352 232.8,352.8 L236.6,354.2 Q238.1,354.8 238.1,356.6 L238.1,362.4 L230.9,359.8 Z" stroke="#333" stroke-width="0.7" fill="#fff" />
<path d="M229,363.4 L238.6,367 M230.4,364.4 L234.4,371.6 M234.2,364.6 L232.4,369.6 M235.6,363.6 L238.8,372.6 M238,366.6 L236.4,370.2" stroke="#555" stroke-width="0.5" fill="none" />
<path d="M241,365.2 L243.2,365.6 L241.9,372.4" stroke="#333" stroke-width="0.6" fill="none" />
<line x1="241.2" y1="360.5" x2="250.2" y2="360.5" stroke="#333" stroke-width="0.8" />
<path d="M104,336.6 L112,339.6 M101,350.2 L110.6,354 L113.6,352.4 M119,359.4 L121.4,363 L124,364.4 M183.6,391 L193.6,384.6 M212,387 L217.6,389 M204.6,395.6 L208,397" stroke="#1a6a9c" stroke-width="0.5" fill="none" />
<path d="M98.80000000000001,332.7 L105.80000000000001,335.59999999999997 L105.0,337.9 L98.0,335.09999999999997 Z" stroke="#1a6a9c" stroke-width="0.5" fill="#6cc3ea" />
<ellipse cx="97.4" cy="333.4" rx="1.9" ry="2.8" transform="rotate(20 97.4 333.4)" stroke="#1a6a9c" stroke-width="0.6" fill="#6cc3ea" />
<ellipse cx="99.10000000000001" cy="334.09999999999997" rx="1.9" ry="2.8" transform="rotate(20 99.10000000000001 334.09999999999997)" stroke="#1a6a9c" stroke-width="0.6" fill="#6cc3ea" />
<path d="M95.0,345.90000000000003 L102.0,348.8 L101.19999999999999,351.1 L94.19999999999999,348.3 Z" stroke="#1a6a9c" stroke-width="0.5" fill="#6cc3ea" />
<ellipse cx="93.6" cy="346.6" rx="1.9" ry="2.8" transform="rotate(20 93.6 346.6)" stroke="#1a6a9c" stroke-width="0.6" fill="#6cc3ea" />
<ellipse cx="95.3" cy="347.3" rx="1.9" ry="2.8" transform="rotate(20 95.3 347.3)" stroke="#1a6a9c" stroke-width="0.6" fill="#6cc3ea" />
<g transform="translate(-79.1 -35.3)">
<path d="M194.3,374.1 Q193.8,369.6 195.1,366.9 Q196.4,364.4 198.7,364.5 Q201.6,364.2 203.5,365.3 Q204.8,367 205.2,370.1 L206,372.9 Q207.6,371.8 209.2,372.1 Q211.4,372.8 212.4,375.3 Q213.4,378.2 212.8,381.4 Q212.2,384.4 210.8,386.2 Q209.2,387.8 206.8,388.2 L202.3,387.8 L201.1,390.3 Q201.2,392.6 200.7,394.3 Q199.8,396.8 197.9,398.3 Q195.6,399.8 193.1,399.5 Q190.8,398.6 189.8,396.7 Q189,394.4 189.4,391.9 Q190,389.2 191.5,387 Q192.8,385.4 194.3,384.6 Z" stroke="#123f5a" stroke-width="0.8" fill="#6cc3ea" />
<path d="M196.4,368.4 Q195.6,372 196,377 Q196.6,382.6 194.6,386 M196,377 Q199.6,380.6 203.6,379.2 Q205.6,378 206.6,375.6 M198.6,385.4 Q200.6,384.6 202.4,385.6" stroke="#1a6a9c" stroke-width="0.5" fill="none" />
<ellipse cx="208.4" cy="381.2" rx="2.9" ry="3.9" transform="rotate(20 208.4 381.2)" stroke="#123f5a" stroke-width="0.6" fill="#a9dcf3" />
<ellipse cx="208.6" cy="381.3" rx="1.3" ry="1.9" transform="rotate(20 208.6 381.3)" stroke="#123f5a" stroke-width="0.6" fill="#fff" />
<ellipse cx="195.8" cy="391" rx="3.1" ry="4.1" transform="rotate(20 195.8 391)" stroke="#123f5a" stroke-width="0.6" fill="#a9dcf3" />
<ellipse cx="196" cy="391.1" rx="1.4" ry="2.0" transform="rotate(20 196 391.1)" stroke="#123f5a" stroke-width="0.6" fill="#fff" />
<circle cx="201.5" cy="368.5" r="0.55" fill="#123f5a"/><circle cx="200.3" cy="372.1" r="0.55" fill="#123f5a"/><circle cx="198.6" cy="370.4" r="0.5" fill="#123f5a"/>
</g>
<ellipse cx="134.4" cy="348.6" rx="1.5" ry="2.5" transform="rotate(20 134.4 348.6)" stroke="#1a6a9c" stroke-width="0.6" fill="#6cc3ea" />
<polygon points="135.25505035831418,346.2507684480353 149.35505035831417,352.45076844803526 147.64494964168583,357.14923155196476 133.54494964168583,350.9492315519648" stroke="none" stroke-width="0.8" fill="#6cc3ea" />
<line x1="135.25505035831418" y1="346.2507684480353" x2="149.35505035831417" y2="352.45076844803526" stroke="#1a6a9c" stroke-width="0.6" />
<line x1="133.54494964168583" y1="350.9492315519648" x2="147.64494964168583" y2="357.14923155196476" stroke="#1a6a9c" stroke-width="0.6" />
<ellipse cx="148.5" cy="354.8" rx="1.5" ry="2.5" transform="rotate(20 148.5 354.8)" stroke="#1a6a9c" stroke-width="0.6" fill="#6cc3ea" />
<ellipse cx="151.4" cy="356.6" rx="4.3" ry="7.6" transform="rotate(20 151.4 356.6)" stroke="#1a6a9c" stroke-width="0.6" fill="#6cc3ea" />
<polygon points="153.99935308927508,349.45833608202713 157.19935308927506,350.8583360820271 152.00064691072492,365.1416639179729 148.80064691072494,363.7416639179729" stroke="none" stroke-width="0.8" fill="#6cc3ea" />
<line x1="153.99935308927508" y1="349.45833608202713" x2="157.19935308927506" y2="350.8583360820271" stroke="#1a6a9c" stroke-width="0.6" />
<line x1="148.80064691072494" y1="363.7416639179729" x2="152.00064691072492" y2="365.1416639179729" stroke="#1a6a9c" stroke-width="0.6" />
<ellipse cx="154.6" cy="358" rx="4.3" ry="7.6" transform="rotate(20 154.6 358)" stroke="#1a6a9c" stroke-width="0.6" fill="#6cc3ea" />
<ellipse cx="155.6" cy="358.4" rx="2.7" ry="4.7" transform="rotate(20 155.6 358.4)" stroke="#1a6a9c" stroke-width="0.6" fill="#6cc3ea" />
<polygon points="157.20749467363063,353.9834446823062 168.20749467363063,358.7834446823062 164.99250532636935,367.6165553176938 153.99250532636935,362.81655531769377" stroke="none" stroke-width="0.8" fill="#6cc3ea" />
<line x1="157.20749467363063" y1="353.9834446823062" x2="168.20749467363063" y2="358.7834446823062" stroke="#1a6a9c" stroke-width="0.6" />
<line x1="153.99250532636935" y1="362.81655531769377" x2="164.99250532636935" y2="367.6165553176938" stroke="#1a6a9c" stroke-width="0.6" />
<ellipse cx="166.6" cy="363.2" rx="2.7" ry="4.7" transform="rotate(20 166.6 363.2)" stroke="#1a6a9c" stroke-width="0.6" fill="#6cc3ea" />
<ellipse cx="166.6" cy="363.2" rx="1.3" ry="2.2" transform="rotate(20 166.6 363.2)" stroke="#1a6a9c" stroke-width="0.6" fill="#6cc3ea" />
<polygon points="167.35244431531646,361.132676234271 172.15244431531647,363.132676234271 170.64755568468354,367.267323765729 165.84755568468353,365.267323765729" stroke="none" stroke-width="0.8" fill="#6cc3ea" />
<line x1="167.35244431531646" y1="361.132676234271" x2="172.15244431531647" y2="363.132676234271" stroke="#1a6a9c" stroke-width="0.6" />
<line x1="165.84755568468353" y1="365.267323765729" x2="170.64755568468354" y2="367.267323765729" stroke="#1a6a9c" stroke-width="0.6" />
<ellipse cx="171.4" cy="365.2" rx="1.3" ry="2.2" transform="rotate(20 171.4 365.2)" stroke="#1a6a9c" stroke-width="0.6" fill="#6cc3ea" />
<ellipse cx="124.2" cy="365.5" rx="1.5" ry="2.5" transform="rotate(20 124.2 365.5)" stroke="#1a6a9c" stroke-width="0.6" fill="#6cc3ea" />
<polygon points="125.05505035831418,363.15076844803525 139.15505035831418,369.35076844803524 137.44494964168584,374.04923155196474 123.34494964168583,367.84923155196475" stroke="none" stroke-width="0.8" fill="#6cc3ea" />
<line x1="125.05505035831418" y1="363.15076844803525" x2="139.15505035831418" y2="369.35076844803524" stroke="#1a6a9c" stroke-width="0.6" />
<line x1="123.34494964168583" y1="367.84923155196475" x2="137.44494964168584" y2="374.04923155196474" stroke="#1a6a9c" stroke-width="0.6" />
<ellipse cx="138.3" cy="371.7" rx="1.5" ry="2.5" transform="rotate(20 138.3 371.7)" stroke="#1a6a9c" stroke-width="0.6" fill="#6cc3ea" />
<ellipse cx="140.2" cy="373.5" rx="4.3" ry="7.6" transform="rotate(20 140.2 373.5)" stroke="#1a6a9c" stroke-width="0.6" fill="#6cc3ea" />
<polygon points="142.79935308927506,366.3583360820271 145.99935308927508,367.7583360820271 140.80064691072494,382.04166391797287 137.60064691072492,380.6416639179729" stroke="none" stroke-width="0.8" fill="#6cc3ea" />
<line x1="142.79935308927506" y1="366.3583360820271" x2="145.99935308927508" y2="367.7583360820271" stroke="#1a6a9c" stroke-width="0.6" />
<line x1="137.60064691072492" y1="380.6416639179729" x2="140.80064691072494" y2="382.04166391797287" stroke="#1a6a9c" stroke-width="0.6" />
<ellipse cx="143.4" cy="374.9" rx="4.3" ry="7.6" transform="rotate(20 143.4 374.9)" stroke="#1a6a9c" stroke-width="0.6" fill="#6cc3ea" />
<ellipse cx="144.4" cy="375.3" rx="2.7" ry="4.7" transform="rotate(20 144.4 375.3)" stroke="#1a6a9c" stroke-width="0.6" fill="#6cc3ea" />
<polygon points="146.00749467363065,370.8834446823062 157.00749467363065,375.68344468230623 153.79250532636937,384.5165553176938 142.79250532636937,379.7165553176938" stroke="none" stroke-width="0.8" fill="#6cc3ea" />
<line x1="146.00749467363065" y1="370.8834446823062" x2="157.00749467363065" y2="375.68344468230623" stroke="#1a6a9c" stroke-width="0.6" />
<line x1="142.79250532636937" y1="379.7165553176938" x2="153.79250532636937" y2="384.5165553176938" stroke="#1a6a9c" stroke-width="0.6" />
<ellipse cx="155.4" cy="380.1" rx="2.7" ry="4.7" transform="rotate(20 155.4 380.1)" stroke="#1a6a9c" stroke-width="0.6" fill="#6cc3ea" />
<ellipse cx="155.4" cy="380.1" rx="1.3" ry="2.2" transform="rotate(20 155.4 380.1)" stroke="#1a6a9c" stroke-width="0.6" fill="#6cc3ea" />
<polygon points="156.15244431531647,378.03267623427104 160.95244431531646,380.03267623427104 159.44755568468352,384.167323765729 154.64755568468354,382.167323765729" stroke="none" stroke-width="0.8" fill="#6cc3ea" />
<line x1="156.15244431531647" y1="378.03267623427104" x2="160.95244431531646" y2="380.03267623427104" stroke="#1a6a9c" stroke-width="0.6" />
<line x1="154.64755568468354" y1="382.167323765729" x2="159.44755568468352" y2="384.167323765729" stroke="#1a6a9c" stroke-width="0.6" />
<ellipse cx="160.2" cy="382.1" rx="1.3" ry="2.2" transform="rotate(20 160.2 382.1)" stroke="#1a6a9c" stroke-width="0.6" fill="#6cc3ea" />
<ellipse cx="175.2" cy="366.6" rx="2.8" ry="4.9" transform="rotate(20 175.2 366.6)" stroke="#1a6a9c" stroke-width="0.6" fill="#6cc3ea" />
<polygon points="176.87589870229576,361.99550615814906 187.27589870229576,366.595506158149 183.92410129770423,375.80449384185096 173.52410129770422,371.204493841851" stroke="none" stroke-width="0.8" fill="#6cc3ea" />
<line x1="176.87589870229576" y1="361.99550615814906" x2="187.27589870229576" y2="366.595506158149" stroke="#1a6a9c" stroke-width="0.6" />
<line x1="173.52410129770422" y1="371.204493841851" x2="183.92410129770423" y2="375.80449384185096" stroke="#1a6a9c" stroke-width="0.6" />
<ellipse cx="185.6" cy="371.2" rx="2.8" ry="4.9" transform="rotate(20 185.6 371.2)" stroke="#1a6a9c" stroke-width="0.6" fill="#6cc3ea" />
<ellipse cx="186.6" cy="371.8" rx="4.7" ry="8.4" transform="rotate(20 186.6 371.8)" stroke="#1a6a9c" stroke-width="0.6" fill="#6cc3ea" />
<polygon points="189.4729692039356,363.90658198539836 192.27296920393562,365.10658198539835 186.5270307960644,380.89341801460165 183.72703079606438,379.69341801460166" stroke="none" stroke-width="0.8" fill="#6cc3ea" />
<line x1="189.4729692039356" y1="363.90658198539836" x2="192.27296920393562" y2="365.10658198539835" stroke="#1a6a9c" stroke-width="0.6" />
<line x1="183.72703079606438" y1="379.69341801460166" x2="186.5270307960644" y2="380.89341801460165" stroke="#1a6a9c" stroke-width="0.6" />
<ellipse cx="189.4" cy="373" rx="4.7" ry="8.4" transform="rotate(20 189.4 373)" stroke="#1a6a9c" stroke-width="0.6" fill="#6cc3ea" />
<ellipse cx="189.70000000000002" cy="373.1" rx="1.4" ry="2.3" transform="rotate(20 189.70000000000002 373.1)" stroke="#1a6a9c" stroke-width="0.6" fill="#fff" />
<g transform="translate(0.0 0.0)">
<path d="M194.3,374.1 Q193.8,369.6 195.1,366.9 Q196.4,364.4 198.7,364.5 Q201.6,364.2 203.5,365.3 Q204.8,367 205.2,370.1 L206,372.9 Q207.6,371.8 209.2,372.1 Q211.4,372.8 212.4,375.3 Q213.4,378.2 212.8,381.4 Q212.2,384.4 210.8,386.2 Q209.2,387.8 206.8,388.2 L202.3,387.8 L201.1,390.3 Q201.2,392.6 200.7,394.3 Q199.8,396.8 197.9,398.3 Q195.6,399.8 193.1,399.5 Q190.8,398.6 189.8,396.7 Q189,394.4 189.4,391.9 Q190,389.2 191.5,387 Q192.8,385.4 194.3,384.6 Z" stroke="#123f5a" stroke-width="0.8" fill="#6cc3ea" />
<path d="M196.4,368.4 Q195.6,372 196,377 Q196.6,382.6 194.6,386 M196,377 Q199.6,380.6 203.6,379.2 Q205.6,378 206.6,375.6 M198.6,385.4 Q200.6,384.6 202.4,385.6" stroke="#1a6a9c" stroke-width="0.5" fill="none" />
<ellipse cx="208.4" cy="381.2" rx="2.9" ry="3.9" transform="rotate(20 208.4 381.2)" stroke="#123f5a" stroke-width="0.6" fill="#a9dcf3" />
<ellipse cx="208.6" cy="381.3" rx="1.3" ry="1.9" transform="rotate(20 208.6 381.3)" stroke="#123f5a" stroke-width="0.6" fill="#fff" />
<ellipse cx="195.8" cy="391" rx="3.1" ry="4.1" transform="rotate(20 195.8 391)" stroke="#123f5a" stroke-width="0.6" fill="#a9dcf3" />
<ellipse cx="196" cy="391.1" rx="1.4" ry="2.0" transform="rotate(20 196 391.1)" stroke="#123f5a" stroke-width="0.6" fill="#fff" />
<circle cx="201.5" cy="368.5" r="0.55" fill="#123f5a"/><circle cx="200.3" cy="372.1" r="0.55" fill="#123f5a"/><circle cx="198.6" cy="370.4" r="0.5" fill="#123f5a"/>
</g>
<ellipse cx="164" cy="384.6" rx="2.8" ry="4.9" transform="rotate(20 164 384.6)" stroke="#1a6a9c" stroke-width="0.6" fill="#6cc3ea" />
<polygon points="165.67589870229577,379.99550615814906 176.07589870229577,384.595506158149 172.72410129770424,393.80449384185096 162.32410129770423,389.204493841851" stroke="none" stroke-width="0.8" fill="#6cc3ea" />
<line x1="165.67589870229577" y1="379.99550615814906" x2="176.07589870229577" y2="384.595506158149" stroke="#1a6a9c" stroke-width="0.6" />
<line x1="162.32410129770423" y1="389.204493841851" x2="172.72410129770424" y2="393.80449384185096" stroke="#1a6a9c" stroke-width="0.6" />
<ellipse cx="174.4" cy="389.2" rx="2.8" ry="4.9" transform="rotate(20 174.4 389.2)" stroke="#1a6a9c" stroke-width="0.6" fill="#6cc3ea" />
<ellipse cx="175.4" cy="389.8" rx="4.7" ry="8.4" transform="rotate(20 175.4 389.8)" stroke="#1a6a9c" stroke-width="0.6" fill="#6cc3ea" />
<polygon points="178.27296920393562,381.90658198539836 181.0729692039356,383.10658198539835 175.32703079606438,398.89341801460165 172.5270307960644,397.69341801460166" stroke="none" stroke-width="0.8" fill="#6cc3ea" />
<line x1="178.27296920393562" y1="381.90658198539836" x2="181.0729692039356" y2="383.10658198539835" stroke="#1a6a9c" stroke-width="0.6" />
<line x1="172.5270307960644" y1="397.69341801460166" x2="175.32703079606438" y2="398.89341801460165" stroke="#1a6a9c" stroke-width="0.6" />
<ellipse cx="178.2" cy="391" rx="4.7" ry="8.4" transform="rotate(20 178.2 391)" stroke="#1a6a9c" stroke-width="0.6" fill="#6cc3ea" />
<ellipse cx="178.5" cy="391.1" rx="1.4" ry="2.3" transform="rotate(20 178.5 391.1)" stroke="#1a6a9c" stroke-width="0.6" fill="#fff" />
<path d="M218.0,383.2 L225.0,386.09999999999997 L224.2,388.4 L217.2,385.5 Z" stroke="#1a6a9c" stroke-width="0.5" fill="#6cc3ea" />
<ellipse cx="217.6" cy="384.4" rx="0.9" ry="1.3" transform="rotate(20 217.6 384.4)" stroke="#1a6a9c" stroke-width="0.5" fill="#6cc3ea" />
<ellipse cx="224.2" cy="387.09999999999997" rx="1.9" ry="2.8" transform="rotate(20 224.2 387.09999999999997)" stroke="#1a6a9c" stroke-width="0.6" fill="#6cc3ea" />
<ellipse cx="225.9" cy="387.8" rx="1.9" ry="2.8" transform="rotate(20 225.9 387.8)" stroke="#1a6a9c" stroke-width="0.6" fill="#6cc3ea" />
<ellipse cx="226.1" cy="387.9" rx="0.9" ry="1.4" transform="rotate(20 226.1 387.9)" stroke="#1a6a9c" stroke-width="0.5" fill="#bfe4f6" />
<path d="M206.8,394.2 L213.8,397.09999999999997 L213.0,399.4 L206.0,396.5 Z" stroke="#1a6a9c" stroke-width="0.5" fill="#6cc3ea" />
<ellipse cx="206.4" cy="395.4" rx="0.9" ry="1.3" transform="rotate(20 206.4 395.4)" stroke="#1a6a9c" stroke-width="0.5" fill="#6cc3ea" />
<ellipse cx="213.0" cy="398.09999999999997" rx="1.9" ry="2.8" transform="rotate(20 213.0 398.09999999999997)" stroke="#1a6a9c" stroke-width="0.6" fill="#6cc3ea" />
<ellipse cx="214.70000000000002" cy="398.8" rx="1.9" ry="2.8" transform="rotate(20 214.70000000000002 398.8)" stroke="#1a6a9c" stroke-width="0.6" fill="#6cc3ea" />
<ellipse cx="214.9" cy="398.9" rx="0.9" ry="1.4" transform="rotate(20 214.9 398.9)" stroke="#1a6a9c" stroke-width="0.5" fill="#bfe4f6" />
<line x1="189.6" y1="424.4" x2="177.6" y2="398.6" stroke="#45b4e8" stroke-width="1.2" />
<path d="M152.4,317.6 L150.8,317.7 L125.8,333.7" stroke="#3a3a3a" stroke-width="0.6" fill="none" stroke-dasharray="6.5 1.3 1 1.3" stroke-linecap="butt"/>
<path d="M144.8,327.7 L143.6,327.3 L128.2,337.1" stroke="#3a3a3a" stroke-width="0.6" fill="none" stroke-dasharray="6.5 1.3 1 1.3" stroke-linecap="butt"/>
<path d="M216.8,349.5 L194.5,366" stroke="#3a3a3a" stroke-width="0.6" fill="none" stroke-dasharray="6.5 1.3 1 1.3" stroke-linecap="butt"/>
<path d="M208.6,355.3 L191.8,364.7" stroke="#3a3a3a" stroke-width="0.6" fill="none" stroke-dasharray="6.5 1.3 1 1.3" stroke-linecap="butt"/>
<path d="M208.6,345.2 L212,346.4 M199.8,350.5 L203.2,352" stroke="#3a3a3a" stroke-width="0.55" fill="none" />
<ellipse cx="153.7" cy="320" rx="1.7" ry="1.9040000000000001" transform="rotate(20 153.7 320)" fill="#e01822" stroke="#5a080c" stroke-width="0.7"/><ellipse cx="153.79999999999998" cy="320" rx="0.71" ry="0.85" fill="#f04048" stroke="#7a0c10" stroke-width="0.4"/>
<ellipse cx="148.6" cy="329.7" rx="2.4" ry="2.688" transform="rotate(20 148.6 329.7)" fill="#e01822" stroke="#5a080c" stroke-width="0.7"/><ellipse cx="148.7" cy="329.7" rx="1.01" ry="1.2" fill="#f04048" stroke="#7a0c10" stroke-width="0.4"/>
<ellipse cx="213.9" cy="347.6" rx="1.8" ry="2.0160000000000005" transform="rotate(20 213.9 347.6)" fill="#e01822" stroke="#5a080c" stroke-width="0.7"/><ellipse cx="214.0" cy="347.6" rx="0.76" ry="0.9" fill="#f04048" stroke="#7a0c10" stroke-width="0.4"/>
<ellipse cx="205.7" cy="353.4" rx="2.4" ry="2.688" transform="rotate(20 205.7 353.4)" fill="#e01822" stroke="#5a080c" stroke-width="0.7"/><ellipse cx="205.79999999999998" cy="353.4" rx="1.01" ry="1.2" fill="#f04048" stroke="#7a0c10" stroke-width="0.4"/>
<path d="M96.2,385 Q93,382.4 88.9,382.9 Q84.6,383.6 82.2,387 Q79.6,390.6 80,394.4 Q80.4,398.8 82.6,401.6 Q85.2,404.4 89,405 L91.6,405.2 L92.5,408.5 L96.2,407.5 L101.4,401.2 L100.4,398.6 L96.7,397.5 Q94.2,394.6 93.6,390.6 Q93.8,387.4 96.2,385 Z" stroke="#8a4c1e" stroke-width="0.7" fill="#f2b480" />
<path d="M93.8,385.6 Q89.6,384.4 86.4,387.4 Q83.4,390.8 84.2,395.6 Q85.4,400 89.6,401.8 L91.5,401.7 M86.6,390.6 Q88.6,388.4 91.4,389 M86.2,394.6 Q89,393 92.6,394.6 M88,398.6 L94.6,396.6" stroke="#8a4c1e" stroke-width="0.5" fill="none" />
<path d="M84.2,395.6 Q85.4,400 89.6,401.8 L96.7,397.5 Q94.2,394.6 93.6,390.6 Q90,392 86.4,391.4 Z" stroke="none" stroke-width="0.8" fill="#d8925a" opacity="0.6"/>
<path d="M91.5,401.7 L92.5,408.5 M91.5,401.7 L100.4,398.6" stroke="#8a4c1e" stroke-width="0.5" fill="none" />
<path d="M98.3,394.9 L104.1,393.7 L104.6,395.4 L99.9,397 Z" stroke="#8a4c1e" stroke-width="0.5" fill="#f2b480" />
<path d="M98.3,410.6 Q99.8,408.8 100.4,406.4 L101.4,402.3 L106.2,400.2 L109.3,397.5 L111.4,400.2 L106.7,405.4 Q105.2,407.4 104.6,409.6 Q103.6,411.6 101.4,412.2 Z" stroke="#8a4c1e" stroke-width="0.7" fill="#f2b480" />
<path d="M101.4,402.3 Q103,404.6 102.6,408 Q102,410.6 100.2,411.8 M106.2,400.2 L107.6,403.6" stroke="#8a4c1e" stroke-width="0.5" fill="none" />
<path d="M106.2,405.4 L111.9,402.3 Q114,401 116.1,401.2 Q119.4,402.2 120.8,405.4 Q122.2,408.6 121.6,411.7 Q120.6,415.4 118.2,418 Q115.4,420.6 111.9,421.6 Q109,422.2 106.7,421.1 L105.8,418.5 Q108.4,418 109.8,416.4 Q111.8,414.4 111.9,411.7 Q111.6,409.2 109.8,407.5 Z" stroke="#8a4c1e" stroke-width="0.7" fill="#f2b480" />
<path d="M105.8,418.5 L108.6,419.4 Q113,419.4 116.4,416.2" stroke="#8a4c1e" stroke-width="0.5" fill="none" />
<ellipse cx="116.1" cy="406.4" rx="1.3" ry="1.8" transform="rotate(20 116.1 406.4)" stroke="#8a4c1e" stroke-width="0.5" fill="#d8925a" />
<path d="M117.4,407.4 L125,411.9" stroke="#8a4c1e" stroke-width="2.0" fill="none" stroke-linecap="round"/>
<path d="M117.4,407.4 L125,411.9" stroke="#f2b480" stroke-width="1.1" fill="none" stroke-linecap="round"/>
<ellipse cx="125" cy="411.9" rx="1.0" ry="1.5" transform="rotate(20 125 411.9)" stroke="#8a4c1e" stroke-width="0.5" fill="#f2b480" />
<path d="M117.7,422.9 L125,426.7" stroke="#8a4c1e" stroke-width="2.0" fill="none" stroke-linecap="round"/>
<path d="M117.7,422.9 L125,426.7" stroke="#f2b480" stroke-width="1.1" fill="none" stroke-linecap="round"/>
<ellipse cx="125" cy="426.7" rx="1.0" ry="1.5" transform="rotate(20 125 426.7)" stroke="#8a4c1e" stroke-width="0.5" fill="#f2b480" />
<line x1="77.9" y1="429.5" x2="92.5" y2="409.1" stroke="#f4b183" stroke-width="1.2" />
<line x1="72.6" y1="171" x2="72.6" y2="186" stroke="#e0202a" stroke-width="1.1" />
<path d="M173.6,172.6 L171,180 M136.6,182 L143.4,168 L198.4,190.6 L194.6,203" stroke="#333" stroke-width="0.7" fill="none" />
<line x1="108" y1="191.6" x2="106.4" y2="202" stroke="#333" stroke-width="0.7" />
<line x1="220" y1="197.6" x2="210.4" y2="208.4" stroke="#333" stroke-width="0.7" />
<line x1="250.5" y1="185.4" x2="250.5" y2="197.4" stroke="#333" stroke-width="0.7" />
<line x1="310.6" y1="184" x2="310.6" y2="200" stroke="#333" stroke-width="0.7" />
<line x1="61" y1="229.6" x2="65" y2="233" stroke="#333" stroke-width="0.7" />
<line x1="338.8" y1="358.8" x2="345" y2="363.8" stroke="#333" stroke-width="0.7" />
<defs><filter id="f0" filterUnits="userSpaceOnUse" x="0" y="0" width="620" height="620"><feOffset dx="0" dy="0"/></filter></defs>
<g filter="url(#f0)">
<text x="540.2" y="289.0" font-size="15.8" textLength="6.8" lengthAdjust="spacingAndGlyphs" text-anchor="start">7</text>
<text x="534" y="299.6" font-size="10.3" textLength="38.8" lengthAdjust="spacingAndGlyphs" text-anchor="start">(600BAR)</text>
<text x="542.4" y="341.2" font-size="15.8" textLength="6.8" lengthAdjust="spacingAndGlyphs" text-anchor="start">8</text>
<text x="536" y="351.7" font-size="10.3" textLength="39.2" lengthAdjust="spacingAndGlyphs" text-anchor="start">(200BAR)</text>
<text x="542.2" y="396.3" font-size="15.8" textLength="6.9" lengthAdjust="spacingAndGlyphs" text-anchor="start">9</text>
<text x="536" y="405.8" font-size="10.3" textLength="39.6" lengthAdjust="spacingAndGlyphs" text-anchor="start">(100BAR)</text>
<text x="543" y="455.4" font-size="15.8" textLength="14.2" lengthAdjust="spacingAndGlyphs" text-anchor="start">10</text>
<text x="539" y="465" font-size="10.3" textLength="34" lengthAdjust="spacingAndGlyphs" text-anchor="start">(20BAR)</text>
<text x="543.4" y="502.9" font-size="15.8" textLength="12.6" lengthAdjust="spacingAndGlyphs" text-anchor="start">11</text>
<text x="536" y="512.2" font-size="10.3" textLength="39.6" lengthAdjust="spacingAndGlyphs" text-anchor="start">(400BAR)</text>
<text x="68.4" y="167.9" font-size="15.8" textLength="14.4" lengthAdjust="spacingAndGlyphs" text-anchor="start">18</text>
<text x="170.2" y="170.1" font-size="15.8" textLength="14.6" lengthAdjust="spacingAndGlyphs" text-anchor="start">12</text>
<text x="97.6" y="191.4" font-size="15.8" textLength="14" lengthAdjust="spacingAndGlyphs" text-anchor="start">13</text>
<text x="218.8" y="195.6" font-size="15.8" textLength="6.8" lengthAdjust="spacingAndGlyphs" text-anchor="start">3</text>
<text x="247" y="183.8" font-size="15.8" textLength="6.8" lengthAdjust="spacingAndGlyphs" text-anchor="start">6</text>
<text x="307.6" y="182.2" font-size="15.8" textLength="6.8" lengthAdjust="spacingAndGlyphs" text-anchor="start">5</text>
<text x="53.4" y="228.2" font-size="15.8" textLength="6" lengthAdjust="spacingAndGlyphs" text-anchor="start">1</text>
<text x="295" y="267.2" font-size="15.8" textLength="14" lengthAdjust="spacingAndGlyphs" text-anchor="start">14</text>
<text x="333.2" y="288.5" font-size="16.3" textLength="14.3" lengthAdjust="spacingAndGlyphs" text-anchor="start">16</text>
<text x="291.8" y="362.4" font-size="15.8" textLength="13.6" lengthAdjust="spacingAndGlyphs" text-anchor="start">15</text>
<text x="251.4" y="366.7" font-size="15.8" textLength="6.9" lengthAdjust="spacingAndGlyphs" text-anchor="start">4</text>
<text x="269.6" y="395.9" font-size="16.6" textLength="15.6" lengthAdjust="spacingAndGlyphs" text-anchor="start">20</text>
<text x="346.2" y="374.6" font-size="15.8" textLength="6.8" lengthAdjust="spacingAndGlyphs" text-anchor="start">2</text>
<text x="65.5" y="444.6" font-size="15.8" textLength="14" lengthAdjust="spacingAndGlyphs" text-anchor="start">17</text>
<text x="181.8" y="443.2" font-size="16.5" textLength="15.6" lengthAdjust="spacingAndGlyphs" text-anchor="start">19</text>
</g>
</svg>
</body></html>
